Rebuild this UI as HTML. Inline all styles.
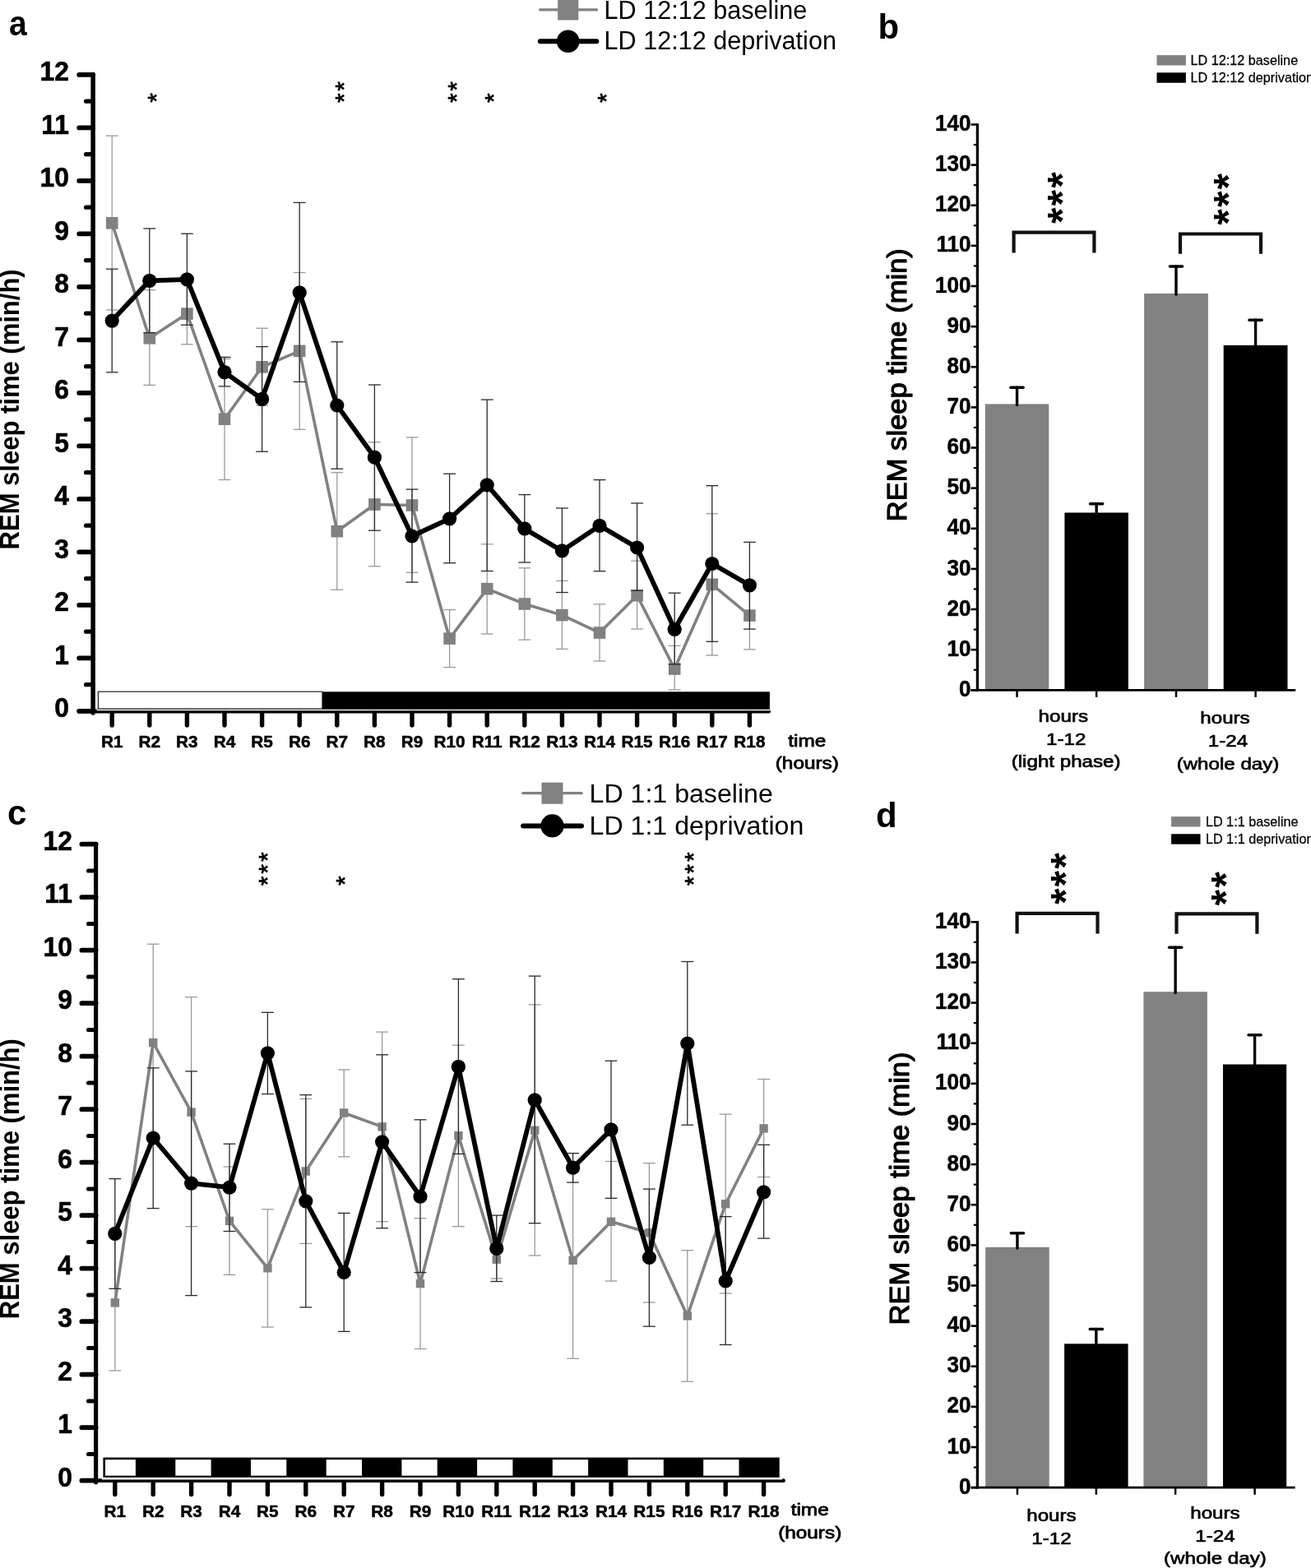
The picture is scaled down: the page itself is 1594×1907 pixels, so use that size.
<!DOCTYPE html>
<html lang="en"><head><meta charset="utf-8"><title>REM sleep time: LD 12:12 and LD 1:1, baseline vs deprivation</title>
<style>html,body{margin:0;padding:0;background:#fff}body{width:1594px;height:1907px;overflow:hidden}svg{display:block}text{font-family:'Liberation Sans', sans-serif;fill:#000}</style>
</head><body>
<svg width="1594" height="1907" viewBox="0 0 1594 1907" role="img" aria-label="REM sleep time per hour and totals for LD 12:12 and LD 1:1 schedules, baseline versus deprivation">
<rect x="0" y="0" width="1594" height="1907" fill="#fff"/>
<g id="panel-a">
<line x1="136.2" y1="165.1" x2="136.2" y2="377" stroke="#9a9a9a" stroke-width="1.3" stroke-linecap="butt"/>
<line x1="128.8" y1="165.1" x2="143.6" y2="165.1" stroke="#9a9a9a" stroke-width="1.3" stroke-linecap="butt"/>
<line x1="128.8" y1="377" x2="143.6" y2="377" stroke="#9a9a9a" stroke-width="1.3" stroke-linecap="butt"/>
<line x1="181.8" y1="352.6" x2="181.8" y2="468.4" stroke="#9a9a9a" stroke-width="1.3" stroke-linecap="butt"/>
<line x1="174.4" y1="352.6" x2="189.2" y2="352.6" stroke="#9a9a9a" stroke-width="1.3" stroke-linecap="butt"/>
<line x1="174.4" y1="468.4" x2="189.2" y2="468.4" stroke="#9a9a9a" stroke-width="1.3" stroke-linecap="butt"/>
<line x1="227.4" y1="344.4" x2="227.4" y2="418.8" stroke="#9a9a9a" stroke-width="1.3" stroke-linecap="butt"/>
<line x1="220" y1="344.4" x2="234.8" y2="344.4" stroke="#9a9a9a" stroke-width="1.3" stroke-linecap="butt"/>
<line x1="220" y1="418.8" x2="234.8" y2="418.8" stroke="#9a9a9a" stroke-width="1.3" stroke-linecap="butt"/>
<line x1="273" y1="436.4" x2="273" y2="583.5" stroke="#9a9a9a" stroke-width="1.3" stroke-linecap="butt"/>
<line x1="265.6" y1="436.4" x2="280.4" y2="436.4" stroke="#9a9a9a" stroke-width="1.3" stroke-linecap="butt"/>
<line x1="265.6" y1="583.5" x2="280.4" y2="583.5" stroke="#9a9a9a" stroke-width="1.3" stroke-linecap="butt"/>
<line x1="318.6" y1="399.2" x2="318.6" y2="493.3" stroke="#9a9a9a" stroke-width="1.3" stroke-linecap="butt"/>
<line x1="311.2" y1="399.2" x2="326" y2="399.2" stroke="#9a9a9a" stroke-width="1.3" stroke-linecap="butt"/>
<line x1="311.2" y1="493.3" x2="326" y2="493.3" stroke="#9a9a9a" stroke-width="1.3" stroke-linecap="butt"/>
<line x1="364.2" y1="331.5" x2="364.2" y2="522.3" stroke="#9a9a9a" stroke-width="1.3" stroke-linecap="butt"/>
<line x1="356.8" y1="331.5" x2="371.6" y2="331.5" stroke="#9a9a9a" stroke-width="1.3" stroke-linecap="butt"/>
<line x1="356.8" y1="522.3" x2="371.6" y2="522.3" stroke="#9a9a9a" stroke-width="1.3" stroke-linecap="butt"/>
<line x1="409.8" y1="574.7" x2="409.8" y2="717.2" stroke="#9a9a9a" stroke-width="1.3" stroke-linecap="butt"/>
<line x1="402.4" y1="574.7" x2="417.2" y2="574.7" stroke="#9a9a9a" stroke-width="1.3" stroke-linecap="butt"/>
<line x1="402.4" y1="717.2" x2="417.2" y2="717.2" stroke="#9a9a9a" stroke-width="1.3" stroke-linecap="butt"/>
<line x1="455.4" y1="537.7" x2="455.4" y2="688.7" stroke="#9a9a9a" stroke-width="1.3" stroke-linecap="butt"/>
<line x1="448" y1="537.7" x2="462.8" y2="537.7" stroke="#9a9a9a" stroke-width="1.3" stroke-linecap="butt"/>
<line x1="448" y1="688.7" x2="462.8" y2="688.7" stroke="#9a9a9a" stroke-width="1.3" stroke-linecap="butt"/>
<line x1="501" y1="531.9" x2="501" y2="696.3" stroke="#9a9a9a" stroke-width="1.3" stroke-linecap="butt"/>
<line x1="493.6" y1="531.9" x2="508.4" y2="531.9" stroke="#9a9a9a" stroke-width="1.3" stroke-linecap="butt"/>
<line x1="493.6" y1="696.3" x2="508.4" y2="696.3" stroke="#9a9a9a" stroke-width="1.3" stroke-linecap="butt"/>
<line x1="546.6" y1="741.6" x2="546.6" y2="811.6" stroke="#9a9a9a" stroke-width="1.3" stroke-linecap="butt"/>
<line x1="539.2" y1="741.6" x2="554" y2="741.6" stroke="#9a9a9a" stroke-width="1.3" stroke-linecap="butt"/>
<line x1="539.2" y1="811.6" x2="554" y2="811.6" stroke="#9a9a9a" stroke-width="1.3" stroke-linecap="butt"/>
<line x1="592.2" y1="661.8" x2="592.2" y2="771" stroke="#9a9a9a" stroke-width="1.3" stroke-linecap="butt"/>
<line x1="584.8" y1="661.8" x2="599.6" y2="661.8" stroke="#9a9a9a" stroke-width="1.3" stroke-linecap="butt"/>
<line x1="584.8" y1="771" x2="599.6" y2="771" stroke="#9a9a9a" stroke-width="1.3" stroke-linecap="butt"/>
<line x1="637.8" y1="690.8" x2="637.8" y2="778.1" stroke="#9a9a9a" stroke-width="1.3" stroke-linecap="butt"/>
<line x1="630.4" y1="690.8" x2="645.2" y2="690.8" stroke="#9a9a9a" stroke-width="1.3" stroke-linecap="butt"/>
<line x1="630.4" y1="778.1" x2="645.2" y2="778.1" stroke="#9a9a9a" stroke-width="1.3" stroke-linecap="butt"/>
<line x1="683.4" y1="706.4" x2="683.4" y2="789.4" stroke="#9a9a9a" stroke-width="1.3" stroke-linecap="butt"/>
<line x1="676" y1="706.4" x2="690.8" y2="706.4" stroke="#9a9a9a" stroke-width="1.3" stroke-linecap="butt"/>
<line x1="676" y1="789.4" x2="690.8" y2="789.4" stroke="#9a9a9a" stroke-width="1.3" stroke-linecap="butt"/>
<line x1="729" y1="734.8" x2="729" y2="804" stroke="#9a9a9a" stroke-width="1.3" stroke-linecap="butt"/>
<line x1="721.6" y1="734.8" x2="736.4" y2="734.8" stroke="#9a9a9a" stroke-width="1.3" stroke-linecap="butt"/>
<line x1="721.6" y1="804" x2="736.4" y2="804" stroke="#9a9a9a" stroke-width="1.3" stroke-linecap="butt"/>
<line x1="774.6" y1="682.2" x2="774.6" y2="765" stroke="#9a9a9a" stroke-width="1.3" stroke-linecap="butt"/>
<line x1="767.2" y1="682.2" x2="782" y2="682.2" stroke="#9a9a9a" stroke-width="1.3" stroke-linecap="butt"/>
<line x1="767.2" y1="765" x2="782" y2="765" stroke="#9a9a9a" stroke-width="1.3" stroke-linecap="butt"/>
<line x1="820.2" y1="785.4" x2="820.2" y2="838.9" stroke="#9a9a9a" stroke-width="1.3" stroke-linecap="butt"/>
<line x1="812.8" y1="785.4" x2="827.6" y2="785.4" stroke="#9a9a9a" stroke-width="1.3" stroke-linecap="butt"/>
<line x1="812.8" y1="838.9" x2="827.6" y2="838.9" stroke="#9a9a9a" stroke-width="1.3" stroke-linecap="butt"/>
<line x1="865.8" y1="624.7" x2="865.8" y2="797" stroke="#9a9a9a" stroke-width="1.3" stroke-linecap="butt"/>
<line x1="858.4" y1="624.7" x2="873.2" y2="624.7" stroke="#9a9a9a" stroke-width="1.3" stroke-linecap="butt"/>
<line x1="858.4" y1="797" x2="873.2" y2="797" stroke="#9a9a9a" stroke-width="1.3" stroke-linecap="butt"/>
<line x1="911.4" y1="707.3" x2="911.4" y2="789.9" stroke="#9a9a9a" stroke-width="1.3" stroke-linecap="butt"/>
<line x1="904" y1="707.3" x2="918.8" y2="707.3" stroke="#9a9a9a" stroke-width="1.3" stroke-linecap="butt"/>
<line x1="904" y1="789.9" x2="918.8" y2="789.9" stroke="#9a9a9a" stroke-width="1.3" stroke-linecap="butt"/>
<polyline points="136.2,271.3 181.8,411.3 227.4,381.6 273,509.7 318.6,446.3 364.2,426.9 409.8,646.2 455.4,613.5 501,614.5 546.6,776.6 592.2,716.2 637.8,734.5 683.4,748.1 729,769.5 774.6,724.2 820.2,813.5 865.8,710.8 911.4,748.6" fill="none" stroke="#818181" stroke-width="3.6" stroke-linejoin="round" stroke-linecap="round"/>
<rect x="128.9" y="264" width="14.6" height="14.6" fill="#818181"/>
<rect x="174.5" y="404" width="14.6" height="14.6" fill="#818181"/>
<rect x="220.1" y="374.3" width="14.6" height="14.6" fill="#818181"/>
<rect x="265.7" y="502.4" width="14.6" height="14.6" fill="#818181"/>
<rect x="311.3" y="439" width="14.6" height="14.6" fill="#818181"/>
<rect x="356.9" y="419.6" width="14.6" height="14.6" fill="#818181"/>
<rect x="402.5" y="638.9" width="14.6" height="14.6" fill="#818181"/>
<rect x="448.1" y="606.2" width="14.6" height="14.6" fill="#818181"/>
<rect x="493.7" y="607.2" width="14.6" height="14.6" fill="#818181"/>
<rect x="539.3" y="769.3" width="14.6" height="14.6" fill="#818181"/>
<rect x="584.9" y="708.9" width="14.6" height="14.6" fill="#818181"/>
<rect x="630.5" y="727.2" width="14.6" height="14.6" fill="#818181"/>
<rect x="676.1" y="740.8" width="14.6" height="14.6" fill="#818181"/>
<rect x="721.7" y="762.2" width="14.6" height="14.6" fill="#818181"/>
<rect x="767.3" y="716.9" width="14.6" height="14.6" fill="#818181"/>
<rect x="812.9" y="806.2" width="14.6" height="14.6" fill="#818181"/>
<rect x="858.5" y="703.5" width="14.6" height="14.6" fill="#818181"/>
<rect x="904.1" y="741.3" width="14.6" height="14.6" fill="#818181"/>
<line x1="136.2" y1="327.2" x2="136.2" y2="452.8" stroke="#2a2a2a" stroke-width="1.3" stroke-linecap="butt"/>
<line x1="128.8" y1="327.2" x2="143.6" y2="327.2" stroke="#2a2a2a" stroke-width="1.3" stroke-linecap="butt"/>
<line x1="128.8" y1="452.8" x2="143.6" y2="452.8" stroke="#2a2a2a" stroke-width="1.3" stroke-linecap="butt"/>
<line x1="181.8" y1="277.9" x2="181.8" y2="404.7" stroke="#2a2a2a" stroke-width="1.3" stroke-linecap="butt"/>
<line x1="174.4" y1="277.9" x2="189.2" y2="277.9" stroke="#2a2a2a" stroke-width="1.3" stroke-linecap="butt"/>
<line x1="174.4" y1="404.7" x2="189.2" y2="404.7" stroke="#2a2a2a" stroke-width="1.3" stroke-linecap="butt"/>
<line x1="227.4" y1="284.2" x2="227.4" y2="395.2" stroke="#2a2a2a" stroke-width="1.3" stroke-linecap="butt"/>
<line x1="220" y1="284.2" x2="234.8" y2="284.2" stroke="#2a2a2a" stroke-width="1.3" stroke-linecap="butt"/>
<line x1="220" y1="395.2" x2="234.8" y2="395.2" stroke="#2a2a2a" stroke-width="1.3" stroke-linecap="butt"/>
<line x1="273" y1="434.4" x2="273" y2="469.9" stroke="#2a2a2a" stroke-width="1.3" stroke-linecap="butt"/>
<line x1="265.6" y1="434.4" x2="280.4" y2="434.4" stroke="#2a2a2a" stroke-width="1.3" stroke-linecap="butt"/>
<line x1="265.6" y1="469.9" x2="280.4" y2="469.9" stroke="#2a2a2a" stroke-width="1.3" stroke-linecap="butt"/>
<line x1="318.6" y1="421.6" x2="318.6" y2="549.2" stroke="#2a2a2a" stroke-width="1.3" stroke-linecap="butt"/>
<line x1="311.2" y1="421.6" x2="326" y2="421.6" stroke="#2a2a2a" stroke-width="1.3" stroke-linecap="butt"/>
<line x1="311.2" y1="549.2" x2="326" y2="549.2" stroke="#2a2a2a" stroke-width="1.3" stroke-linecap="butt"/>
<line x1="364.2" y1="246.4" x2="364.2" y2="464.4" stroke="#2a2a2a" stroke-width="1.3" stroke-linecap="butt"/>
<line x1="356.8" y1="246.4" x2="371.6" y2="246.4" stroke="#2a2a2a" stroke-width="1.3" stroke-linecap="butt"/>
<line x1="356.8" y1="464.4" x2="371.6" y2="464.4" stroke="#2a2a2a" stroke-width="1.3" stroke-linecap="butt"/>
<line x1="409.8" y1="415.8" x2="409.8" y2="570.2" stroke="#2a2a2a" stroke-width="1.3" stroke-linecap="butt"/>
<line x1="402.4" y1="415.8" x2="417.2" y2="415.8" stroke="#2a2a2a" stroke-width="1.3" stroke-linecap="butt"/>
<line x1="402.4" y1="570.2" x2="417.2" y2="570.2" stroke="#2a2a2a" stroke-width="1.3" stroke-linecap="butt"/>
<line x1="455.4" y1="468" x2="455.4" y2="645.2" stroke="#2a2a2a" stroke-width="1.3" stroke-linecap="butt"/>
<line x1="448" y1="468" x2="462.8" y2="468" stroke="#2a2a2a" stroke-width="1.3" stroke-linecap="butt"/>
<line x1="448" y1="645.2" x2="462.8" y2="645.2" stroke="#2a2a2a" stroke-width="1.3" stroke-linecap="butt"/>
<line x1="501" y1="595.1" x2="501" y2="708.1" stroke="#2a2a2a" stroke-width="1.3" stroke-linecap="butt"/>
<line x1="493.6" y1="595.1" x2="508.4" y2="595.1" stroke="#2a2a2a" stroke-width="1.3" stroke-linecap="butt"/>
<line x1="493.6" y1="708.1" x2="508.4" y2="708.1" stroke="#2a2a2a" stroke-width="1.3" stroke-linecap="butt"/>
<line x1="546.6" y1="576.2" x2="546.6" y2="684.7" stroke="#2a2a2a" stroke-width="1.3" stroke-linecap="butt"/>
<line x1="539.2" y1="576.2" x2="554" y2="576.2" stroke="#2a2a2a" stroke-width="1.3" stroke-linecap="butt"/>
<line x1="539.2" y1="684.7" x2="554" y2="684.7" stroke="#2a2a2a" stroke-width="1.3" stroke-linecap="butt"/>
<line x1="592.2" y1="486.1" x2="592.2" y2="694.5" stroke="#2a2a2a" stroke-width="1.3" stroke-linecap="butt"/>
<line x1="584.8" y1="486.1" x2="599.6" y2="486.1" stroke="#2a2a2a" stroke-width="1.3" stroke-linecap="butt"/>
<line x1="584.8" y1="694.5" x2="599.6" y2="694.5" stroke="#2a2a2a" stroke-width="1.3" stroke-linecap="butt"/>
<line x1="637.8" y1="601.6" x2="637.8" y2="684" stroke="#2a2a2a" stroke-width="1.3" stroke-linecap="butt"/>
<line x1="630.4" y1="601.6" x2="645.2" y2="601.6" stroke="#2a2a2a" stroke-width="1.3" stroke-linecap="butt"/>
<line x1="630.4" y1="684" x2="645.2" y2="684" stroke="#2a2a2a" stroke-width="1.3" stroke-linecap="butt"/>
<line x1="683.4" y1="618" x2="683.4" y2="720.5" stroke="#2a2a2a" stroke-width="1.3" stroke-linecap="butt"/>
<line x1="676" y1="618" x2="690.8" y2="618" stroke="#2a2a2a" stroke-width="1.3" stroke-linecap="butt"/>
<line x1="676" y1="720.5" x2="690.8" y2="720.5" stroke="#2a2a2a" stroke-width="1.3" stroke-linecap="butt"/>
<line x1="729" y1="583.6" x2="729" y2="694.7" stroke="#2a2a2a" stroke-width="1.3" stroke-linecap="butt"/>
<line x1="721.6" y1="583.6" x2="736.4" y2="583.6" stroke="#2a2a2a" stroke-width="1.3" stroke-linecap="butt"/>
<line x1="721.6" y1="694.7" x2="736.4" y2="694.7" stroke="#2a2a2a" stroke-width="1.3" stroke-linecap="butt"/>
<line x1="774.6" y1="612" x2="774.6" y2="718.3" stroke="#2a2a2a" stroke-width="1.3" stroke-linecap="butt"/>
<line x1="767.2" y1="612" x2="782" y2="612" stroke="#2a2a2a" stroke-width="1.3" stroke-linecap="butt"/>
<line x1="767.2" y1="718.3" x2="782" y2="718.3" stroke="#2a2a2a" stroke-width="1.3" stroke-linecap="butt"/>
<line x1="820.2" y1="721.2" x2="820.2" y2="808" stroke="#2a2a2a" stroke-width="1.3" stroke-linecap="butt"/>
<line x1="812.8" y1="721.2" x2="827.6" y2="721.2" stroke="#2a2a2a" stroke-width="1.3" stroke-linecap="butt"/>
<line x1="812.8" y1="808" x2="827.6" y2="808" stroke="#2a2a2a" stroke-width="1.3" stroke-linecap="butt"/>
<line x1="865.8" y1="590.7" x2="865.8" y2="780.3" stroke="#2a2a2a" stroke-width="1.3" stroke-linecap="butt"/>
<line x1="858.4" y1="590.7" x2="873.2" y2="590.7" stroke="#2a2a2a" stroke-width="1.3" stroke-linecap="butt"/>
<line x1="858.4" y1="780.3" x2="873.2" y2="780.3" stroke="#2a2a2a" stroke-width="1.3" stroke-linecap="butt"/>
<line x1="911.4" y1="659.4" x2="911.4" y2="765.1" stroke="#2a2a2a" stroke-width="1.3" stroke-linecap="butt"/>
<line x1="904" y1="659.4" x2="918.8" y2="659.4" stroke="#2a2a2a" stroke-width="1.3" stroke-linecap="butt"/>
<line x1="904" y1="765.1" x2="918.8" y2="765.1" stroke="#2a2a2a" stroke-width="1.3" stroke-linecap="butt"/>
<polyline points="136.2,390.1 181.8,341.3 227.4,339.8 273,452.6 318.6,485.3 364.2,355.9 409.8,493 455.4,556.2 501,652 546.6,630.8 592.2,589.8 637.8,642.9 683.4,669.9 729,639.3 774.6,666 820.2,765.3 865.8,685.5 911.4,711.8" fill="none" stroke="#000" stroke-width="5.8" stroke-linejoin="round" stroke-linecap="round"/>
<circle cx="136.2" cy="390.1" r="8.6" fill="#000"/>
<circle cx="181.8" cy="341.3" r="8.6" fill="#000"/>
<circle cx="227.4" cy="339.8" r="8.6" fill="#000"/>
<circle cx="273" cy="452.6" r="8.6" fill="#000"/>
<circle cx="318.6" cy="485.3" r="8.6" fill="#000"/>
<circle cx="364.2" cy="355.9" r="8.6" fill="#000"/>
<circle cx="409.8" cy="493" r="8.6" fill="#000"/>
<circle cx="455.4" cy="556.2" r="8.6" fill="#000"/>
<circle cx="501" cy="652" r="8.6" fill="#000"/>
<circle cx="546.6" cy="630.8" r="8.6" fill="#000"/>
<circle cx="592.2" cy="589.8" r="8.6" fill="#000"/>
<circle cx="637.8" cy="642.9" r="8.6" fill="#000"/>
<circle cx="683.4" cy="669.9" r="8.6" fill="#000"/>
<circle cx="729" cy="639.3" r="8.6" fill="#000"/>
<circle cx="774.6" cy="666" r="8.6" fill="#000"/>
<circle cx="820.2" cy="765.3" r="8.6" fill="#000"/>
<circle cx="865.8" cy="685.5" r="8.6" fill="#000"/>
<circle cx="911.4" cy="711.8" r="8.6" fill="#000"/>
<line x1="113.1" y1="90.5" x2="113.1" y2="866.9" stroke="#000" stroke-width="5.5" stroke-linecap="round"/>
<line x1="96.2" y1="864.9" x2="113.1" y2="864.9" stroke="#000" stroke-width="5.7" stroke-linecap="round"/>
<line x1="104.5" y1="832.65" x2="113.1" y2="832.65" stroke="#000" stroke-width="5.1" stroke-linecap="round"/>
<line x1="96.2" y1="800.4" x2="113.1" y2="800.4" stroke="#000" stroke-width="5.7" stroke-linecap="round"/>
<line x1="104.5" y1="768.15" x2="113.1" y2="768.15" stroke="#000" stroke-width="5.1" stroke-linecap="round"/>
<line x1="96.2" y1="735.9" x2="113.1" y2="735.9" stroke="#000" stroke-width="5.7" stroke-linecap="round"/>
<line x1="104.5" y1="703.65" x2="113.1" y2="703.65" stroke="#000" stroke-width="5.1" stroke-linecap="round"/>
<line x1="96.2" y1="671.4" x2="113.1" y2="671.4" stroke="#000" stroke-width="5.7" stroke-linecap="round"/>
<line x1="104.5" y1="639.15" x2="113.1" y2="639.15" stroke="#000" stroke-width="5.1" stroke-linecap="round"/>
<line x1="96.2" y1="606.9" x2="113.1" y2="606.9" stroke="#000" stroke-width="5.7" stroke-linecap="round"/>
<line x1="104.5" y1="574.65" x2="113.1" y2="574.65" stroke="#000" stroke-width="5.1" stroke-linecap="round"/>
<line x1="96.2" y1="542.4" x2="113.1" y2="542.4" stroke="#000" stroke-width="5.7" stroke-linecap="round"/>
<line x1="104.5" y1="510.15" x2="113.1" y2="510.15" stroke="#000" stroke-width="5.1" stroke-linecap="round"/>
<line x1="96.2" y1="477.9" x2="113.1" y2="477.9" stroke="#000" stroke-width="5.7" stroke-linecap="round"/>
<line x1="104.5" y1="445.65" x2="113.1" y2="445.65" stroke="#000" stroke-width="5.1" stroke-linecap="round"/>
<line x1="96.2" y1="413.4" x2="113.1" y2="413.4" stroke="#000" stroke-width="5.7" stroke-linecap="round"/>
<line x1="104.5" y1="381.15" x2="113.1" y2="381.15" stroke="#000" stroke-width="5.1" stroke-linecap="round"/>
<line x1="96.2" y1="348.9" x2="113.1" y2="348.9" stroke="#000" stroke-width="5.7" stroke-linecap="round"/>
<line x1="104.5" y1="316.65" x2="113.1" y2="316.65" stroke="#000" stroke-width="5.1" stroke-linecap="round"/>
<line x1="96.2" y1="284.4" x2="113.1" y2="284.4" stroke="#000" stroke-width="5.7" stroke-linecap="round"/>
<line x1="104.5" y1="252.15" x2="113.1" y2="252.15" stroke="#000" stroke-width="5.1" stroke-linecap="round"/>
<line x1="96.2" y1="219.9" x2="113.1" y2="219.9" stroke="#000" stroke-width="5.7" stroke-linecap="round"/>
<line x1="104.5" y1="187.65" x2="113.1" y2="187.65" stroke="#000" stroke-width="5.1" stroke-linecap="round"/>
<line x1="96.2" y1="155.4" x2="113.1" y2="155.4" stroke="#000" stroke-width="5.7" stroke-linecap="round"/>
<line x1="104.5" y1="123.15" x2="113.1" y2="123.15" stroke="#000" stroke-width="5.1" stroke-linecap="round"/>
<line x1="96.2" y1="90.9" x2="113.1" y2="90.9" stroke="#000" stroke-width="5.7" stroke-linecap="round"/>
<line x1="96.2" y1="864.9" x2="934.5" y2="864.9" stroke="#000" stroke-width="5" stroke-linecap="round"/>
<line x1="136.2" y1="864.9" x2="136.2" y2="882" stroke="#000" stroke-width="5.4" stroke-linecap="round"/>
<line x1="181.8" y1="864.9" x2="181.8" y2="882" stroke="#000" stroke-width="5.4" stroke-linecap="round"/>
<line x1="227.4" y1="864.9" x2="227.4" y2="882" stroke="#000" stroke-width="5.4" stroke-linecap="round"/>
<line x1="273" y1="864.9" x2="273" y2="882" stroke="#000" stroke-width="5.4" stroke-linecap="round"/>
<line x1="318.6" y1="864.9" x2="318.6" y2="882" stroke="#000" stroke-width="5.4" stroke-linecap="round"/>
<line x1="364.2" y1="864.9" x2="364.2" y2="882" stroke="#000" stroke-width="5.4" stroke-linecap="round"/>
<line x1="409.8" y1="864.9" x2="409.8" y2="882" stroke="#000" stroke-width="5.4" stroke-linecap="round"/>
<line x1="455.4" y1="864.9" x2="455.4" y2="882" stroke="#000" stroke-width="5.4" stroke-linecap="round"/>
<line x1="501" y1="864.9" x2="501" y2="882" stroke="#000" stroke-width="5.4" stroke-linecap="round"/>
<line x1="546.6" y1="864.9" x2="546.6" y2="882" stroke="#000" stroke-width="5.4" stroke-linecap="round"/>
<line x1="592.2" y1="864.9" x2="592.2" y2="882" stroke="#000" stroke-width="5.4" stroke-linecap="round"/>
<line x1="637.8" y1="864.9" x2="637.8" y2="882" stroke="#000" stroke-width="5.4" stroke-linecap="round"/>
<line x1="683.4" y1="864.9" x2="683.4" y2="882" stroke="#000" stroke-width="5.4" stroke-linecap="round"/>
<line x1="729" y1="864.9" x2="729" y2="882" stroke="#000" stroke-width="5.4" stroke-linecap="round"/>
<line x1="774.6" y1="864.9" x2="774.6" y2="882" stroke="#000" stroke-width="5.4" stroke-linecap="round"/>
<line x1="820.2" y1="864.9" x2="820.2" y2="882" stroke="#000" stroke-width="5.4" stroke-linecap="round"/>
<line x1="865.8" y1="864.9" x2="865.8" y2="882" stroke="#000" stroke-width="5.4" stroke-linecap="round"/>
<line x1="911.4" y1="864.9" x2="911.4" y2="882" stroke="#000" stroke-width="5.4" stroke-linecap="round"/>
<rect x="117.6" y="862.6" width="819" height="1.6" fill="#fff"/>
<rect x="392" y="841.3" width="543.9" height="21.4" fill="#000"/>
<rect x="119.4" y="841.2" width="272.5" height="20.8" fill="#fff" stroke="#222" stroke-width="1.2"/>
<text transform="translate(84 872.2) scale(0.95 1)" font-size="33.5" font-weight="bold" text-anchor="end" stroke="#000" stroke-width="0.6" stroke-linejoin="round">0</text>
<text transform="translate(84 807.7) scale(0.95 1)" font-size="33.5" font-weight="bold" text-anchor="end" stroke="#000" stroke-width="0.6" stroke-linejoin="round">1</text>
<text transform="translate(84 743.2) scale(0.95 1)" font-size="33.5" font-weight="bold" text-anchor="end" stroke="#000" stroke-width="0.6" stroke-linejoin="round">2</text>
<text transform="translate(84 678.7) scale(0.95 1)" font-size="33.5" font-weight="bold" text-anchor="end" stroke="#000" stroke-width="0.6" stroke-linejoin="round">3</text>
<text transform="translate(84 614.2) scale(0.95 1)" font-size="33.5" font-weight="bold" text-anchor="end" stroke="#000" stroke-width="0.6" stroke-linejoin="round">4</text>
<text transform="translate(84 549.7) scale(0.95 1)" font-size="33.5" font-weight="bold" text-anchor="end" stroke="#000" stroke-width="0.6" stroke-linejoin="round">5</text>
<text transform="translate(84 485.2) scale(0.95 1)" font-size="33.5" font-weight="bold" text-anchor="end" stroke="#000" stroke-width="0.6" stroke-linejoin="round">6</text>
<text transform="translate(84 420.7) scale(0.95 1)" font-size="33.5" font-weight="bold" text-anchor="end" stroke="#000" stroke-width="0.6" stroke-linejoin="round">7</text>
<text transform="translate(84 356.2) scale(0.95 1)" font-size="33.5" font-weight="bold" text-anchor="end" stroke="#000" stroke-width="0.6" stroke-linejoin="round">8</text>
<text transform="translate(84 291.7) scale(0.95 1)" font-size="33.5" font-weight="bold" text-anchor="end" stroke="#000" stroke-width="0.6" stroke-linejoin="round">9</text>
<text transform="translate(84 227.2) scale(0.95 1)" font-size="33.5" font-weight="bold" text-anchor="end" stroke="#000" stroke-width="0.6" stroke-linejoin="round">10</text>
<text transform="translate(84 162.7) scale(0.95 1)" font-size="33.5" font-weight="bold" text-anchor="end" stroke="#000" stroke-width="0.6" stroke-linejoin="round">11</text>
<text transform="translate(84 98.2) scale(0.95 1)" font-size="33.5" font-weight="bold" text-anchor="end" stroke="#000" stroke-width="0.6" stroke-linejoin="round">12</text>
<text x="136.2" y="909.4" font-size="20.8" font-weight="bold" text-anchor="middle" stroke="#000" stroke-width="0.5" stroke-linejoin="round">R1</text>
<text x="181.8" y="909.4" font-size="20.8" font-weight="bold" text-anchor="middle" stroke="#000" stroke-width="0.5" stroke-linejoin="round">R2</text>
<text x="227.4" y="909.4" font-size="20.8" font-weight="bold" text-anchor="middle" stroke="#000" stroke-width="0.5" stroke-linejoin="round">R3</text>
<text x="273" y="909.4" font-size="20.8" font-weight="bold" text-anchor="middle" stroke="#000" stroke-width="0.5" stroke-linejoin="round">R4</text>
<text x="318.6" y="909.4" font-size="20.8" font-weight="bold" text-anchor="middle" stroke="#000" stroke-width="0.5" stroke-linejoin="round">R5</text>
<text x="364.2" y="909.4" font-size="20.8" font-weight="bold" text-anchor="middle" stroke="#000" stroke-width="0.5" stroke-linejoin="round">R6</text>
<text x="409.8" y="909.4" font-size="20.8" font-weight="bold" text-anchor="middle" stroke="#000" stroke-width="0.5" stroke-linejoin="round">R7</text>
<text x="455.4" y="909.4" font-size="20.8" font-weight="bold" text-anchor="middle" stroke="#000" stroke-width="0.5" stroke-linejoin="round">R8</text>
<text x="501" y="909.4" font-size="20.8" font-weight="bold" text-anchor="middle" stroke="#000" stroke-width="0.5" stroke-linejoin="round">R9</text>
<text x="546.6" y="909.4" font-size="20.8" font-weight="bold" text-anchor="middle" stroke="#000" stroke-width="0.5" stroke-linejoin="round">R10</text>
<text x="592.2" y="909.4" font-size="20.8" font-weight="bold" text-anchor="middle" stroke="#000" stroke-width="0.5" stroke-linejoin="round">R11</text>
<text x="637.8" y="909.4" font-size="20.8" font-weight="bold" text-anchor="middle" stroke="#000" stroke-width="0.5" stroke-linejoin="round">R12</text>
<text x="683.4" y="909.4" font-size="20.8" font-weight="bold" text-anchor="middle" stroke="#000" stroke-width="0.5" stroke-linejoin="round">R13</text>
<text x="729" y="909.4" font-size="20.8" font-weight="bold" text-anchor="middle" stroke="#000" stroke-width="0.5" stroke-linejoin="round">R14</text>
<text x="774.6" y="909.4" font-size="20.8" font-weight="bold" text-anchor="middle" stroke="#000" stroke-width="0.5" stroke-linejoin="round">R15</text>
<text x="820.2" y="909.4" font-size="20.8" font-weight="bold" text-anchor="middle" stroke="#000" stroke-width="0.5" stroke-linejoin="round">R16</text>
<text x="865.8" y="909.4" font-size="20.8" font-weight="bold" text-anchor="middle" stroke="#000" stroke-width="0.5" stroke-linejoin="round">R17</text>
<text x="911.4" y="909.4" font-size="20.8" font-weight="bold" text-anchor="middle" stroke="#000" stroke-width="0.5" stroke-linejoin="round">R18</text>
<text transform="translate(23 497.9) rotate(-90) scale(0.96 1)" font-size="32.3" font-weight="bold" text-anchor="middle">REM sleep time (min/h)</text>
<text transform="translate(981.3 908.1) scale(1.2 1)" font-size="20.3" font-weight="normal" text-anchor="middle" stroke="#000" stroke-width="0.8" stroke-linejoin="round">time</text>
<text transform="translate(981.3 935.4) scale(1.2 1)" font-size="20.3" font-weight="normal" text-anchor="middle" stroke="#000" stroke-width="0.8" stroke-linejoin="round">(hours)</text>
<text transform="translate(11 42.7) scale(0.93 1)" font-size="42" font-weight="bold" text-anchor="start">a</text>
<line x1="656.6" y1="11.9" x2="725.6" y2="11.9" stroke="#818181" stroke-width="3.2" stroke-linecap="round"/>
<rect x="678.15" y="-0.65" width="25.1" height="25.1" fill="#818181"/>
<line x1="656.9" y1="50.2" x2="725.3" y2="50.2" stroke="#000" stroke-width="6" stroke-linecap="round"/>
<circle cx="690.7" cy="50.2" r="13.8" fill="#000"/>
<text transform="translate(734.6 22.6) scale(1 1)" font-size="30.6" font-weight="normal" text-anchor="start">LD 12:12 baseline</text>
<text transform="translate(734.6 60.3) scale(1 1)" font-size="30.6" font-weight="normal" text-anchor="start">LD 12:12 deprivation</text>
<text transform="translate(199.9 124.8) rotate(-90)" font-size="30" font-weight="normal" text-anchor="start" stroke="#000" stroke-width="0.7" stroke-linejoin="round" letter-spacing="2.6">*</text>
<text transform="translate(427.9 125) rotate(-90)" font-size="30" font-weight="normal" text-anchor="start" stroke="#000" stroke-width="0.7" stroke-linejoin="round" letter-spacing="2.6">**</text>
<text transform="translate(564.9 125) rotate(-90)" font-size="30" font-weight="normal" text-anchor="start" stroke="#000" stroke-width="0.7" stroke-linejoin="round" letter-spacing="2.6">**</text>
<text transform="translate(609.9 125) rotate(-90)" font-size="30" font-weight="normal" text-anchor="start" stroke="#000" stroke-width="0.7" stroke-linejoin="round" letter-spacing="2.6">*</text>
<text transform="translate(746.9 125) rotate(-90)" font-size="30" font-weight="normal" text-anchor="start" stroke="#000" stroke-width="0.7" stroke-linejoin="round" letter-spacing="2.6">*</text>
</g>
<g id="panel-b">
<rect x="1197.8" y="491.4" width="77.5" height="347.9" fill="#818181"/>
<line x1="1236.55" y1="471.3" x2="1236.55" y2="492.6" stroke="#000" stroke-width="3.4" stroke-linecap="round"/>
<line x1="1228.95" y1="471.3" x2="1244.15" y2="471.3" stroke="#000" stroke-width="3.4" stroke-linecap="round"/>
<rect x="1294.4" y="623.5" width="77.5" height="215.8" fill="#000"/>
<line x1="1333.15" y1="612.7" x2="1333.15" y2="624.7" stroke="#000" stroke-width="3.4" stroke-linecap="round"/>
<line x1="1325.55" y1="612.7" x2="1340.75" y2="612.7" stroke="#000" stroke-width="3.4" stroke-linecap="round"/>
<rect x="1391.1" y="357" width="77.8" height="482.3" fill="#818181"/>
<line x1="1430" y1="324" x2="1430" y2="358.2" stroke="#000" stroke-width="3.4" stroke-linecap="round"/>
<line x1="1422.4" y1="324" x2="1437.6" y2="324" stroke="#000" stroke-width="3.4" stroke-linecap="round"/>
<rect x="1487.7" y="419.9" width="77.8" height="419.4" fill="#000"/>
<line x1="1526.6" y1="389.3" x2="1526.6" y2="421.1" stroke="#000" stroke-width="3.4" stroke-linecap="round"/>
<line x1="1519" y1="389.3" x2="1534.2" y2="389.3" stroke="#000" stroke-width="3.4" stroke-linecap="round"/>
<line x1="1188.4" y1="150.18" x2="1188.4" y2="840.7" stroke="#000" stroke-width="3.3" stroke-linecap="butt"/>
<line x1="1180.6" y1="839.3" x2="1188.3" y2="839.3" stroke="#000" stroke-width="2.6" stroke-linecap="butt"/>
<line x1="1183.8" y1="814.73" x2="1188.3" y2="814.73" stroke="#000" stroke-width="2.2" stroke-linecap="butt"/>
<line x1="1180.6" y1="790.17" x2="1188.3" y2="790.17" stroke="#000" stroke-width="2.6" stroke-linecap="butt"/>
<line x1="1183.8" y1="765.6" x2="1188.3" y2="765.6" stroke="#000" stroke-width="2.2" stroke-linecap="butt"/>
<line x1="1180.6" y1="741.04" x2="1188.3" y2="741.04" stroke="#000" stroke-width="2.6" stroke-linecap="butt"/>
<line x1="1183.8" y1="716.47" x2="1188.3" y2="716.47" stroke="#000" stroke-width="2.2" stroke-linecap="butt"/>
<line x1="1180.6" y1="691.91" x2="1188.3" y2="691.91" stroke="#000" stroke-width="2.6" stroke-linecap="butt"/>
<line x1="1183.8" y1="667.34" x2="1188.3" y2="667.34" stroke="#000" stroke-width="2.2" stroke-linecap="butt"/>
<line x1="1180.6" y1="642.78" x2="1188.3" y2="642.78" stroke="#000" stroke-width="2.6" stroke-linecap="butt"/>
<line x1="1183.8" y1="618.21" x2="1188.3" y2="618.21" stroke="#000" stroke-width="2.2" stroke-linecap="butt"/>
<line x1="1180.6" y1="593.65" x2="1188.3" y2="593.65" stroke="#000" stroke-width="2.6" stroke-linecap="butt"/>
<line x1="1183.8" y1="569.08" x2="1188.3" y2="569.08" stroke="#000" stroke-width="2.2" stroke-linecap="butt"/>
<line x1="1180.6" y1="544.52" x2="1188.3" y2="544.52" stroke="#000" stroke-width="2.6" stroke-linecap="butt"/>
<line x1="1183.8" y1="519.95" x2="1188.3" y2="519.95" stroke="#000" stroke-width="2.2" stroke-linecap="butt"/>
<line x1="1180.6" y1="495.39" x2="1188.3" y2="495.39" stroke="#000" stroke-width="2.6" stroke-linecap="butt"/>
<line x1="1183.8" y1="470.82" x2="1188.3" y2="470.82" stroke="#000" stroke-width="2.2" stroke-linecap="butt"/>
<line x1="1180.6" y1="446.26" x2="1188.3" y2="446.26" stroke="#000" stroke-width="2.6" stroke-linecap="butt"/>
<line x1="1183.8" y1="421.69" x2="1188.3" y2="421.69" stroke="#000" stroke-width="2.2" stroke-linecap="butt"/>
<line x1="1180.6" y1="397.13" x2="1188.3" y2="397.13" stroke="#000" stroke-width="2.6" stroke-linecap="butt"/>
<line x1="1183.8" y1="372.56" x2="1188.3" y2="372.56" stroke="#000" stroke-width="2.2" stroke-linecap="butt"/>
<line x1="1180.6" y1="348" x2="1188.3" y2="348" stroke="#000" stroke-width="2.6" stroke-linecap="butt"/>
<line x1="1183.8" y1="323.43" x2="1188.3" y2="323.43" stroke="#000" stroke-width="2.2" stroke-linecap="butt"/>
<line x1="1180.6" y1="298.87" x2="1188.3" y2="298.87" stroke="#000" stroke-width="2.6" stroke-linecap="butt"/>
<line x1="1183.8" y1="274.3" x2="1188.3" y2="274.3" stroke="#000" stroke-width="2.2" stroke-linecap="butt"/>
<line x1="1180.6" y1="249.74" x2="1188.3" y2="249.74" stroke="#000" stroke-width="2.6" stroke-linecap="butt"/>
<line x1="1183.8" y1="225.17" x2="1188.3" y2="225.17" stroke="#000" stroke-width="2.2" stroke-linecap="butt"/>
<line x1="1180.6" y1="200.61" x2="1188.3" y2="200.61" stroke="#000" stroke-width="2.6" stroke-linecap="butt"/>
<line x1="1183.8" y1="176.04" x2="1188.3" y2="176.04" stroke="#000" stroke-width="2.2" stroke-linecap="butt"/>
<line x1="1180.6" y1="151.48" x2="1188.3" y2="151.48" stroke="#000" stroke-width="2.6" stroke-linecap="butt"/>
<line x1="1180.6" y1="839.3" x2="1575.3" y2="839.3" stroke="#000" stroke-width="2.8" stroke-linecap="butt"/>
<line x1="1236.55" y1="839.3" x2="1236.55" y2="847.9" stroke="#000" stroke-width="2.5" stroke-linecap="butt"/>
<line x1="1333.15" y1="839.3" x2="1333.15" y2="847.9" stroke="#000" stroke-width="2.5" stroke-linecap="butt"/>
<line x1="1430" y1="839.3" x2="1430" y2="847.9" stroke="#000" stroke-width="2.5" stroke-linecap="butt"/>
<line x1="1526.6" y1="839.3" x2="1526.6" y2="847.9" stroke="#000" stroke-width="2.5" stroke-linecap="butt"/>
<text transform="translate(1180.6 846.9) scale(0.96 1)" font-size="27.2" font-weight="bold" text-anchor="end" stroke="#000" stroke-width="0.5" stroke-linejoin="round">0</text>
<text transform="translate(1180.6 797.77) scale(0.96 1)" font-size="27.2" font-weight="bold" text-anchor="end" stroke="#000" stroke-width="0.5" stroke-linejoin="round">10</text>
<text transform="translate(1180.6 748.64) scale(0.96 1)" font-size="27.2" font-weight="bold" text-anchor="end" stroke="#000" stroke-width="0.5" stroke-linejoin="round">20</text>
<text transform="translate(1180.6 699.51) scale(0.96 1)" font-size="27.2" font-weight="bold" text-anchor="end" stroke="#000" stroke-width="0.5" stroke-linejoin="round">30</text>
<text transform="translate(1180.6 650.38) scale(0.96 1)" font-size="27.2" font-weight="bold" text-anchor="end" stroke="#000" stroke-width="0.5" stroke-linejoin="round">40</text>
<text transform="translate(1180.6 601.25) scale(0.96 1)" font-size="27.2" font-weight="bold" text-anchor="end" stroke="#000" stroke-width="0.5" stroke-linejoin="round">50</text>
<text transform="translate(1180.6 552.12) scale(0.96 1)" font-size="27.2" font-weight="bold" text-anchor="end" stroke="#000" stroke-width="0.5" stroke-linejoin="round">60</text>
<text transform="translate(1180.6 502.99) scale(0.96 1)" font-size="27.2" font-weight="bold" text-anchor="end" stroke="#000" stroke-width="0.5" stroke-linejoin="round">70</text>
<text transform="translate(1180.6 453.86) scale(0.96 1)" font-size="27.2" font-weight="bold" text-anchor="end" stroke="#000" stroke-width="0.5" stroke-linejoin="round">80</text>
<text transform="translate(1180.6 404.73) scale(0.96 1)" font-size="27.2" font-weight="bold" text-anchor="end" stroke="#000" stroke-width="0.5" stroke-linejoin="round">90</text>
<text transform="translate(1180.6 355.6) scale(0.96 1)" font-size="27.2" font-weight="bold" text-anchor="end" stroke="#000" stroke-width="0.5" stroke-linejoin="round">100</text>
<text transform="translate(1180.6 306.47) scale(0.96 1)" font-size="27.2" font-weight="bold" text-anchor="end" stroke="#000" stroke-width="0.5" stroke-linejoin="round">110</text>
<text transform="translate(1180.6 257.34) scale(0.96 1)" font-size="27.2" font-weight="bold" text-anchor="end" stroke="#000" stroke-width="0.5" stroke-linejoin="round">120</text>
<text transform="translate(1180.6 208.21) scale(0.96 1)" font-size="27.2" font-weight="bold" text-anchor="end" stroke="#000" stroke-width="0.5" stroke-linejoin="round">130</text>
<text transform="translate(1180.6 159.08) scale(0.96 1)" font-size="27.2" font-weight="bold" text-anchor="end" stroke="#000" stroke-width="0.5" stroke-linejoin="round">140</text>
<text transform="translate(1101.5 468.2) rotate(-90) scale(1.07 1)" font-size="32.3" font-weight="normal" text-anchor="middle" stroke="#000" stroke-width="1.2" stroke-linejoin="round">REM sleep time (min)</text>
<text x="1067.5" y="46.5" font-size="42" font-weight="bold" text-anchor="start">b</text>
<rect x="1406.5" y="67.1" width="35.4" height="12.4" fill="#818181"/>
<rect x="1406.5" y="88.3" width="35.4" height="12.4" fill="#000"/>
<text transform="translate(1447.5 78.8) scale(0.96 1)" font-size="16.9" font-weight="normal" text-anchor="start" stroke="#000" stroke-width="0.25" stroke-linejoin="round">LD 12:12 baseline</text>
<text transform="translate(1447.5 100.1) scale(0.96 1)" font-size="16.9" font-weight="normal" text-anchor="start" stroke="#000" stroke-width="0.25" stroke-linejoin="round">LD 12:12 deprivation</text>
<path d="M1232.6 307.5 V282.7 H1330.4 V307.5" fill="none" stroke="#111" stroke-width="4.2" stroke-linejoin="miter"/>
<path d="M1435 308.8 V284.5 H1533 V308.8" fill="none" stroke="#111" stroke-width="4.2" stroke-linejoin="miter"/>
<text transform="translate(1308.6 272.1) rotate(-90)" font-size="50" font-weight="bold" text-anchor="start" letter-spacing="2.25">***</text>
<text transform="translate(1511.2 273.8) rotate(-90)" font-size="50" font-weight="bold" text-anchor="start" letter-spacing="2.25">***</text>
<text transform="translate(1292.8 878) scale(1.15 1)" font-size="21" font-weight="normal" text-anchor="middle" stroke="#000" stroke-width="0.7" stroke-linejoin="round">hours</text>
<text transform="translate(1296.2 905.6) scale(1.15 1)" font-size="21" font-weight="normal" text-anchor="middle" stroke="#000" stroke-width="0.7" stroke-linejoin="round">1-12</text>
<text transform="translate(1296.1 933.2) scale(1.15 1)" font-size="21" font-weight="normal" text-anchor="middle" stroke="#000" stroke-width="0.7" stroke-linejoin="round">(light phase)</text>
<text transform="translate(1489.5 880.3) scale(1.15 1)" font-size="21" font-weight="normal" text-anchor="middle" stroke="#000" stroke-width="0.7" stroke-linejoin="round">hours</text>
<text transform="translate(1493 907.9) scale(1.15 1)" font-size="21" font-weight="normal" text-anchor="middle" stroke="#000" stroke-width="0.7" stroke-linejoin="round">1-24</text>
<text transform="translate(1493 935.5) scale(1.15 1)" font-size="21" font-weight="normal" text-anchor="middle" stroke="#000" stroke-width="0.7" stroke-linejoin="round">(whole day)</text>
</g>
<g id="panel-c">
<line x1="139.8" y1="1502" x2="139.8" y2="1667" stroke="#9a9a9a" stroke-width="1.3" stroke-linecap="butt"/>
<line x1="132.4" y1="1502" x2="147.2" y2="1502" stroke="#9a9a9a" stroke-width="1.3" stroke-linecap="butt"/>
<line x1="132.4" y1="1667" x2="147.2" y2="1667" stroke="#9a9a9a" stroke-width="1.3" stroke-linecap="butt"/>
<line x1="186.2" y1="1148.2" x2="186.2" y2="1387.8" stroke="#9a9a9a" stroke-width="1.3" stroke-linecap="butt"/>
<line x1="178.8" y1="1148.2" x2="193.6" y2="1148.2" stroke="#9a9a9a" stroke-width="1.3" stroke-linecap="butt"/>
<line x1="178.8" y1="1387.8" x2="193.6" y2="1387.8" stroke="#9a9a9a" stroke-width="1.3" stroke-linecap="butt"/>
<line x1="232.6" y1="1212.7" x2="232.6" y2="1491.7" stroke="#9a9a9a" stroke-width="1.3" stroke-linecap="butt"/>
<line x1="225.2" y1="1212.7" x2="240" y2="1212.7" stroke="#9a9a9a" stroke-width="1.3" stroke-linecap="butt"/>
<line x1="225.2" y1="1491.7" x2="240" y2="1491.7" stroke="#9a9a9a" stroke-width="1.3" stroke-linecap="butt"/>
<line x1="279" y1="1419" x2="279" y2="1550.4" stroke="#9a9a9a" stroke-width="1.3" stroke-linecap="butt"/>
<line x1="271.6" y1="1419" x2="286.4" y2="1419" stroke="#9a9a9a" stroke-width="1.3" stroke-linecap="butt"/>
<line x1="271.6" y1="1550.4" x2="286.4" y2="1550.4" stroke="#9a9a9a" stroke-width="1.3" stroke-linecap="butt"/>
<line x1="325.4" y1="1470.8" x2="325.4" y2="1614" stroke="#9a9a9a" stroke-width="1.3" stroke-linecap="butt"/>
<line x1="318" y1="1470.8" x2="332.8" y2="1470.8" stroke="#9a9a9a" stroke-width="1.3" stroke-linecap="butt"/>
<line x1="318" y1="1614" x2="332.8" y2="1614" stroke="#9a9a9a" stroke-width="1.3" stroke-linecap="butt"/>
<line x1="371.8" y1="1336.4" x2="371.8" y2="1512.4" stroke="#9a9a9a" stroke-width="1.3" stroke-linecap="butt"/>
<line x1="364.4" y1="1336.4" x2="379.2" y2="1336.4" stroke="#9a9a9a" stroke-width="1.3" stroke-linecap="butt"/>
<line x1="364.4" y1="1512.4" x2="379.2" y2="1512.4" stroke="#9a9a9a" stroke-width="1.3" stroke-linecap="butt"/>
<line x1="418.2" y1="1300.9" x2="418.2" y2="1406.9" stroke="#9a9a9a" stroke-width="1.3" stroke-linecap="butt"/>
<line x1="410.8" y1="1300.9" x2="425.6" y2="1300.9" stroke="#9a9a9a" stroke-width="1.3" stroke-linecap="butt"/>
<line x1="410.8" y1="1406.9" x2="425.6" y2="1406.9" stroke="#9a9a9a" stroke-width="1.3" stroke-linecap="butt"/>
<line x1="464.6" y1="1255.1" x2="464.6" y2="1485.7" stroke="#9a9a9a" stroke-width="1.3" stroke-linecap="butt"/>
<line x1="457.2" y1="1255.1" x2="472" y2="1255.1" stroke="#9a9a9a" stroke-width="1.3" stroke-linecap="butt"/>
<line x1="457.2" y1="1485.7" x2="472" y2="1485.7" stroke="#9a9a9a" stroke-width="1.3" stroke-linecap="butt"/>
<line x1="511" y1="1481.7" x2="511" y2="1640.5" stroke="#9a9a9a" stroke-width="1.3" stroke-linecap="butt"/>
<line x1="503.6" y1="1481.7" x2="518.4" y2="1481.7" stroke="#9a9a9a" stroke-width="1.3" stroke-linecap="butt"/>
<line x1="503.6" y1="1640.5" x2="518.4" y2="1640.5" stroke="#9a9a9a" stroke-width="1.3" stroke-linecap="butt"/>
<line x1="557.4" y1="1271.2" x2="557.4" y2="1491.7" stroke="#9a9a9a" stroke-width="1.3" stroke-linecap="butt"/>
<line x1="550" y1="1271.2" x2="564.8" y2="1271.2" stroke="#9a9a9a" stroke-width="1.3" stroke-linecap="butt"/>
<line x1="550" y1="1491.7" x2="564.8" y2="1491.7" stroke="#9a9a9a" stroke-width="1.3" stroke-linecap="butt"/>
<line x1="603.8" y1="1508.4" x2="603.8" y2="1555" stroke="#9a9a9a" stroke-width="1.3" stroke-linecap="butt"/>
<line x1="596.4" y1="1508.4" x2="611.2" y2="1508.4" stroke="#9a9a9a" stroke-width="1.3" stroke-linecap="butt"/>
<line x1="596.4" y1="1555" x2="611.2" y2="1555" stroke="#9a9a9a" stroke-width="1.3" stroke-linecap="butt"/>
<line x1="650.2" y1="1221.9" x2="650.2" y2="1527" stroke="#9a9a9a" stroke-width="1.3" stroke-linecap="butt"/>
<line x1="642.8" y1="1221.9" x2="657.6" y2="1221.9" stroke="#9a9a9a" stroke-width="1.3" stroke-linecap="butt"/>
<line x1="642.8" y1="1527" x2="657.6" y2="1527" stroke="#9a9a9a" stroke-width="1.3" stroke-linecap="butt"/>
<line x1="696.6" y1="1413.3" x2="696.6" y2="1652.3" stroke="#9a9a9a" stroke-width="1.3" stroke-linecap="butt"/>
<line x1="689.2" y1="1413.3" x2="704" y2="1413.3" stroke="#9a9a9a" stroke-width="1.3" stroke-linecap="butt"/>
<line x1="689.2" y1="1652.3" x2="704" y2="1652.3" stroke="#9a9a9a" stroke-width="1.3" stroke-linecap="butt"/>
<line x1="743" y1="1412.5" x2="743" y2="1558" stroke="#9a9a9a" stroke-width="1.3" stroke-linecap="butt"/>
<line x1="735.6" y1="1412.5" x2="750.4" y2="1412.5" stroke="#9a9a9a" stroke-width="1.3" stroke-linecap="butt"/>
<line x1="735.6" y1="1558" x2="750.4" y2="1558" stroke="#9a9a9a" stroke-width="1.3" stroke-linecap="butt"/>
<line x1="789.4" y1="1414.6" x2="789.4" y2="1584" stroke="#9a9a9a" stroke-width="1.3" stroke-linecap="butt"/>
<line x1="782" y1="1414.6" x2="796.8" y2="1414.6" stroke="#9a9a9a" stroke-width="1.3" stroke-linecap="butt"/>
<line x1="782" y1="1584" x2="796.8" y2="1584" stroke="#9a9a9a" stroke-width="1.3" stroke-linecap="butt"/>
<line x1="835.8" y1="1520.7" x2="835.8" y2="1680.2" stroke="#9a9a9a" stroke-width="1.3" stroke-linecap="butt"/>
<line x1="828.4" y1="1520.7" x2="843.2" y2="1520.7" stroke="#9a9a9a" stroke-width="1.3" stroke-linecap="butt"/>
<line x1="828.4" y1="1680.2" x2="843.2" y2="1680.2" stroke="#9a9a9a" stroke-width="1.3" stroke-linecap="butt"/>
<line x1="882.2" y1="1355.1" x2="882.2" y2="1573" stroke="#9a9a9a" stroke-width="1.3" stroke-linecap="butt"/>
<line x1="874.8" y1="1355.1" x2="889.6" y2="1355.1" stroke="#9a9a9a" stroke-width="1.3" stroke-linecap="butt"/>
<line x1="874.8" y1="1573" x2="889.6" y2="1573" stroke="#9a9a9a" stroke-width="1.3" stroke-linecap="butt"/>
<line x1="928.6" y1="1312.5" x2="928.6" y2="1431.5" stroke="#9a9a9a" stroke-width="1.3" stroke-linecap="butt"/>
<line x1="921.2" y1="1312.5" x2="936" y2="1312.5" stroke="#9a9a9a" stroke-width="1.3" stroke-linecap="butt"/>
<line x1="921.2" y1="1431.5" x2="936" y2="1431.5" stroke="#9a9a9a" stroke-width="1.3" stroke-linecap="butt"/>
<polyline points="139.8,1584.4 186.2,1268 232.6,1352.6 279,1484.9 325.4,1542.3 371.8,1424.5 418.2,1353.5 464.6,1370.4 511,1561.1 557.4,1381.2 603.8,1531.7 650.2,1374.7 696.6,1532.8 743,1485.8 789.4,1499.3 835.8,1600.4 882.2,1464.2 928.6,1372.4" fill="none" stroke="#818181" stroke-width="3.6" stroke-linejoin="round" stroke-linecap="round"/>
<rect x="134.6" y="1579.2" width="10.4" height="10.4" fill="#818181"/>
<rect x="181" y="1262.8" width="10.4" height="10.4" fill="#818181"/>
<rect x="227.4" y="1347.4" width="10.4" height="10.4" fill="#818181"/>
<rect x="273.8" y="1479.7" width="10.4" height="10.4" fill="#818181"/>
<rect x="320.2" y="1537.1" width="10.4" height="10.4" fill="#818181"/>
<rect x="366.6" y="1419.3" width="10.4" height="10.4" fill="#818181"/>
<rect x="413" y="1348.3" width="10.4" height="10.4" fill="#818181"/>
<rect x="459.4" y="1365.2" width="10.4" height="10.4" fill="#818181"/>
<rect x="505.8" y="1555.9" width="10.4" height="10.4" fill="#818181"/>
<rect x="552.2" y="1376" width="10.4" height="10.4" fill="#818181"/>
<rect x="598.6" y="1526.5" width="10.4" height="10.4" fill="#818181"/>
<rect x="645" y="1369.5" width="10.4" height="10.4" fill="#818181"/>
<rect x="691.4" y="1527.6" width="10.4" height="10.4" fill="#818181"/>
<rect x="737.8" y="1480.6" width="10.4" height="10.4" fill="#818181"/>
<rect x="784.2" y="1494.1" width="10.4" height="10.4" fill="#818181"/>
<rect x="830.6" y="1595.2" width="10.4" height="10.4" fill="#818181"/>
<rect x="877" y="1459" width="10.4" height="10.4" fill="#818181"/>
<rect x="923.4" y="1367.2" width="10.4" height="10.4" fill="#818181"/>
<line x1="139.8" y1="1433.6" x2="139.8" y2="1567.3" stroke="#2a2a2a" stroke-width="1.3" stroke-linecap="butt"/>
<line x1="132.4" y1="1433.6" x2="147.2" y2="1433.6" stroke="#2a2a2a" stroke-width="1.3" stroke-linecap="butt"/>
<line x1="132.4" y1="1567.3" x2="147.2" y2="1567.3" stroke="#2a2a2a" stroke-width="1.3" stroke-linecap="butt"/>
<line x1="186.2" y1="1298.8" x2="186.2" y2="1469.6" stroke="#2a2a2a" stroke-width="1.3" stroke-linecap="butt"/>
<line x1="178.8" y1="1298.8" x2="193.6" y2="1298.8" stroke="#2a2a2a" stroke-width="1.3" stroke-linecap="butt"/>
<line x1="178.8" y1="1469.6" x2="193.6" y2="1469.6" stroke="#2a2a2a" stroke-width="1.3" stroke-linecap="butt"/>
<line x1="232.6" y1="1302.9" x2="232.6" y2="1575.6" stroke="#2a2a2a" stroke-width="1.3" stroke-linecap="butt"/>
<line x1="225.2" y1="1302.9" x2="240" y2="1302.9" stroke="#2a2a2a" stroke-width="1.3" stroke-linecap="butt"/>
<line x1="225.2" y1="1575.6" x2="240" y2="1575.6" stroke="#2a2a2a" stroke-width="1.3" stroke-linecap="butt"/>
<line x1="279" y1="1391.2" x2="279" y2="1497.5" stroke="#2a2a2a" stroke-width="1.3" stroke-linecap="butt"/>
<line x1="271.6" y1="1391.2" x2="286.4" y2="1391.2" stroke="#2a2a2a" stroke-width="1.3" stroke-linecap="butt"/>
<line x1="271.6" y1="1497.5" x2="286.4" y2="1497.5" stroke="#2a2a2a" stroke-width="1.3" stroke-linecap="butt"/>
<line x1="325.4" y1="1231.3" x2="325.4" y2="1330.5" stroke="#2a2a2a" stroke-width="1.3" stroke-linecap="butt"/>
<line x1="318" y1="1231.3" x2="332.8" y2="1231.3" stroke="#2a2a2a" stroke-width="1.3" stroke-linecap="butt"/>
<line x1="318" y1="1330.5" x2="332.8" y2="1330.5" stroke="#2a2a2a" stroke-width="1.3" stroke-linecap="butt"/>
<line x1="371.8" y1="1331.6" x2="371.8" y2="1589.9" stroke="#2a2a2a" stroke-width="1.3" stroke-linecap="butt"/>
<line x1="364.4" y1="1331.6" x2="379.2" y2="1331.6" stroke="#2a2a2a" stroke-width="1.3" stroke-linecap="butt"/>
<line x1="364.4" y1="1589.9" x2="379.2" y2="1589.9" stroke="#2a2a2a" stroke-width="1.3" stroke-linecap="butt"/>
<line x1="418.2" y1="1475.4" x2="418.2" y2="1619.4" stroke="#2a2a2a" stroke-width="1.3" stroke-linecap="butt"/>
<line x1="410.8" y1="1475.4" x2="425.6" y2="1475.4" stroke="#2a2a2a" stroke-width="1.3" stroke-linecap="butt"/>
<line x1="410.8" y1="1619.4" x2="425.6" y2="1619.4" stroke="#2a2a2a" stroke-width="1.3" stroke-linecap="butt"/>
<line x1="464.6" y1="1282.8" x2="464.6" y2="1493.7" stroke="#2a2a2a" stroke-width="1.3" stroke-linecap="butt"/>
<line x1="457.2" y1="1282.8" x2="472" y2="1282.8" stroke="#2a2a2a" stroke-width="1.3" stroke-linecap="butt"/>
<line x1="457.2" y1="1493.7" x2="472" y2="1493.7" stroke="#2a2a2a" stroke-width="1.3" stroke-linecap="butt"/>
<line x1="511" y1="1361.8" x2="511" y2="1547.6" stroke="#2a2a2a" stroke-width="1.3" stroke-linecap="butt"/>
<line x1="503.6" y1="1361.8" x2="518.4" y2="1361.8" stroke="#2a2a2a" stroke-width="1.3" stroke-linecap="butt"/>
<line x1="503.6" y1="1547.6" x2="518.4" y2="1547.6" stroke="#2a2a2a" stroke-width="1.3" stroke-linecap="butt"/>
<line x1="557.4" y1="1190.7" x2="557.4" y2="1403.4" stroke="#2a2a2a" stroke-width="1.3" stroke-linecap="butt"/>
<line x1="550" y1="1190.7" x2="564.8" y2="1190.7" stroke="#2a2a2a" stroke-width="1.3" stroke-linecap="butt"/>
<line x1="550" y1="1403.4" x2="564.8" y2="1403.4" stroke="#2a2a2a" stroke-width="1.3" stroke-linecap="butt"/>
<line x1="603.8" y1="1478.1" x2="603.8" y2="1558.5" stroke="#2a2a2a" stroke-width="1.3" stroke-linecap="butt"/>
<line x1="596.4" y1="1478.1" x2="611.2" y2="1478.1" stroke="#2a2a2a" stroke-width="1.3" stroke-linecap="butt"/>
<line x1="596.4" y1="1558.5" x2="611.2" y2="1558.5" stroke="#2a2a2a" stroke-width="1.3" stroke-linecap="butt"/>
<line x1="650.2" y1="1187.1" x2="650.2" y2="1487.7" stroke="#2a2a2a" stroke-width="1.3" stroke-linecap="butt"/>
<line x1="642.8" y1="1187.1" x2="657.6" y2="1187.1" stroke="#2a2a2a" stroke-width="1.3" stroke-linecap="butt"/>
<line x1="642.8" y1="1487.7" x2="657.6" y2="1487.7" stroke="#2a2a2a" stroke-width="1.3" stroke-linecap="butt"/>
<line x1="696.6" y1="1402.6" x2="696.6" y2="1438.1" stroke="#2a2a2a" stroke-width="1.3" stroke-linecap="butt"/>
<line x1="689.2" y1="1402.6" x2="704" y2="1402.6" stroke="#2a2a2a" stroke-width="1.3" stroke-linecap="butt"/>
<line x1="689.2" y1="1438.1" x2="704" y2="1438.1" stroke="#2a2a2a" stroke-width="1.3" stroke-linecap="butt"/>
<line x1="743" y1="1290.2" x2="743" y2="1457.3" stroke="#2a2a2a" stroke-width="1.3" stroke-linecap="butt"/>
<line x1="735.6" y1="1290.2" x2="750.4" y2="1290.2" stroke="#2a2a2a" stroke-width="1.3" stroke-linecap="butt"/>
<line x1="735.6" y1="1457.3" x2="750.4" y2="1457.3" stroke="#2a2a2a" stroke-width="1.3" stroke-linecap="butt"/>
<line x1="789.4" y1="1446.1" x2="789.4" y2="1613.2" stroke="#2a2a2a" stroke-width="1.3" stroke-linecap="butt"/>
<line x1="782" y1="1446.1" x2="796.8" y2="1446.1" stroke="#2a2a2a" stroke-width="1.3" stroke-linecap="butt"/>
<line x1="782" y1="1613.2" x2="796.8" y2="1613.2" stroke="#2a2a2a" stroke-width="1.3" stroke-linecap="butt"/>
<line x1="835.8" y1="1169.5" x2="835.8" y2="1368.2" stroke="#2a2a2a" stroke-width="1.3" stroke-linecap="butt"/>
<line x1="828.4" y1="1169.5" x2="843.2" y2="1169.5" stroke="#2a2a2a" stroke-width="1.3" stroke-linecap="butt"/>
<line x1="828.4" y1="1368.2" x2="843.2" y2="1368.2" stroke="#2a2a2a" stroke-width="1.3" stroke-linecap="butt"/>
<line x1="882.2" y1="1479.6" x2="882.2" y2="1635.5" stroke="#2a2a2a" stroke-width="1.3" stroke-linecap="butt"/>
<line x1="874.8" y1="1479.6" x2="889.6" y2="1479.6" stroke="#2a2a2a" stroke-width="1.3" stroke-linecap="butt"/>
<line x1="874.8" y1="1635.5" x2="889.6" y2="1635.5" stroke="#2a2a2a" stroke-width="1.3" stroke-linecap="butt"/>
<line x1="928.6" y1="1392.3" x2="928.6" y2="1506.1" stroke="#2a2a2a" stroke-width="1.3" stroke-linecap="butt"/>
<line x1="921.2" y1="1392.3" x2="936" y2="1392.3" stroke="#2a2a2a" stroke-width="1.3" stroke-linecap="butt"/>
<line x1="921.2" y1="1506.1" x2="936" y2="1506.1" stroke="#2a2a2a" stroke-width="1.3" stroke-linecap="butt"/>
<polyline points="139.8,1500.3 186.2,1384 232.6,1439.1 279,1444.2 325.4,1280.8 371.8,1460.8 418.2,1547.5 464.6,1388.8 511,1455.2 557.4,1297.4 603.8,1518.4 650.2,1337.9 696.6,1420.2 743,1373.9 789.4,1529.5 835.8,1269 882.2,1558 928.6,1449.9" fill="none" stroke="#000" stroke-width="5.8" stroke-linejoin="round" stroke-linecap="round"/>
<circle cx="139.8" cy="1500.3" r="8.6" fill="#000"/>
<circle cx="186.2" cy="1384" r="8.6" fill="#000"/>
<circle cx="232.6" cy="1439.1" r="8.6" fill="#000"/>
<circle cx="279" cy="1444.2" r="8.6" fill="#000"/>
<circle cx="325.4" cy="1280.8" r="8.6" fill="#000"/>
<circle cx="371.8" cy="1460.8" r="8.6" fill="#000"/>
<circle cx="418.2" cy="1547.5" r="8.6" fill="#000"/>
<circle cx="464.6" cy="1388.8" r="8.6" fill="#000"/>
<circle cx="511" cy="1455.2" r="8.6" fill="#000"/>
<circle cx="557.4" cy="1297.4" r="8.6" fill="#000"/>
<circle cx="603.8" cy="1518.4" r="8.6" fill="#000"/>
<circle cx="650.2" cy="1337.9" r="8.6" fill="#000"/>
<circle cx="696.6" cy="1420.2" r="8.6" fill="#000"/>
<circle cx="743" cy="1373.9" r="8.6" fill="#000"/>
<circle cx="789.4" cy="1529.5" r="8.6" fill="#000"/>
<circle cx="835.8" cy="1269" r="8.6" fill="#000"/>
<circle cx="882.2" cy="1558" r="8.6" fill="#000"/>
<circle cx="928.6" cy="1449.9" r="8.6" fill="#000"/>
<line x1="116.6" y1="1026.3" x2="116.6" y2="1802.7" stroke="#000" stroke-width="5.2" stroke-linecap="round"/>
<line x1="99.4" y1="1800.7" x2="116.6" y2="1800.7" stroke="#000" stroke-width="5.7" stroke-linecap="round"/>
<line x1="107.5" y1="1768.45" x2="116.6" y2="1768.45" stroke="#000" stroke-width="5.1" stroke-linecap="round"/>
<line x1="99.4" y1="1736.2" x2="116.6" y2="1736.2" stroke="#000" stroke-width="5.7" stroke-linecap="round"/>
<line x1="107.5" y1="1703.95" x2="116.6" y2="1703.95" stroke="#000" stroke-width="5.1" stroke-linecap="round"/>
<line x1="99.4" y1="1671.7" x2="116.6" y2="1671.7" stroke="#000" stroke-width="5.7" stroke-linecap="round"/>
<line x1="107.5" y1="1639.45" x2="116.6" y2="1639.45" stroke="#000" stroke-width="5.1" stroke-linecap="round"/>
<line x1="99.4" y1="1607.2" x2="116.6" y2="1607.2" stroke="#000" stroke-width="5.7" stroke-linecap="round"/>
<line x1="107.5" y1="1574.95" x2="116.6" y2="1574.95" stroke="#000" stroke-width="5.1" stroke-linecap="round"/>
<line x1="99.4" y1="1542.7" x2="116.6" y2="1542.7" stroke="#000" stroke-width="5.7" stroke-linecap="round"/>
<line x1="107.5" y1="1510.45" x2="116.6" y2="1510.45" stroke="#000" stroke-width="5.1" stroke-linecap="round"/>
<line x1="99.4" y1="1478.2" x2="116.6" y2="1478.2" stroke="#000" stroke-width="5.7" stroke-linecap="round"/>
<line x1="107.5" y1="1445.95" x2="116.6" y2="1445.95" stroke="#000" stroke-width="5.1" stroke-linecap="round"/>
<line x1="99.4" y1="1413.7" x2="116.6" y2="1413.7" stroke="#000" stroke-width="5.7" stroke-linecap="round"/>
<line x1="107.5" y1="1381.45" x2="116.6" y2="1381.45" stroke="#000" stroke-width="5.1" stroke-linecap="round"/>
<line x1="99.4" y1="1349.2" x2="116.6" y2="1349.2" stroke="#000" stroke-width="5.7" stroke-linecap="round"/>
<line x1="107.5" y1="1316.95" x2="116.6" y2="1316.95" stroke="#000" stroke-width="5.1" stroke-linecap="round"/>
<line x1="99.4" y1="1284.7" x2="116.6" y2="1284.7" stroke="#000" stroke-width="5.7" stroke-linecap="round"/>
<line x1="107.5" y1="1252.45" x2="116.6" y2="1252.45" stroke="#000" stroke-width="5.1" stroke-linecap="round"/>
<line x1="99.4" y1="1220.2" x2="116.6" y2="1220.2" stroke="#000" stroke-width="5.7" stroke-linecap="round"/>
<line x1="107.5" y1="1187.95" x2="116.6" y2="1187.95" stroke="#000" stroke-width="5.1" stroke-linecap="round"/>
<line x1="99.4" y1="1155.7" x2="116.6" y2="1155.7" stroke="#000" stroke-width="5.7" stroke-linecap="round"/>
<line x1="107.5" y1="1123.45" x2="116.6" y2="1123.45" stroke="#000" stroke-width="5.1" stroke-linecap="round"/>
<line x1="99.4" y1="1091.2" x2="116.6" y2="1091.2" stroke="#000" stroke-width="5.7" stroke-linecap="round"/>
<line x1="107.5" y1="1058.95" x2="116.6" y2="1058.95" stroke="#000" stroke-width="5.1" stroke-linecap="round"/>
<line x1="99.4" y1="1026.7" x2="116.6" y2="1026.7" stroke="#000" stroke-width="5.7" stroke-linecap="round"/>
<line x1="99.4" y1="1800.7" x2="952.5" y2="1800.7" stroke="#000" stroke-width="4.8" stroke-linecap="round"/>
<line x1="139.8" y1="1800.7" x2="139.8" y2="1817.5" stroke="#000" stroke-width="5.4" stroke-linecap="round"/>
<line x1="186.2" y1="1800.7" x2="186.2" y2="1817.5" stroke="#000" stroke-width="5.4" stroke-linecap="round"/>
<line x1="232.6" y1="1800.7" x2="232.6" y2="1817.5" stroke="#000" stroke-width="5.4" stroke-linecap="round"/>
<line x1="279" y1="1800.7" x2="279" y2="1817.5" stroke="#000" stroke-width="5.4" stroke-linecap="round"/>
<line x1="325.4" y1="1800.7" x2="325.4" y2="1817.5" stroke="#000" stroke-width="5.4" stroke-linecap="round"/>
<line x1="371.8" y1="1800.7" x2="371.8" y2="1817.5" stroke="#000" stroke-width="5.4" stroke-linecap="round"/>
<line x1="418.2" y1="1800.7" x2="418.2" y2="1817.5" stroke="#000" stroke-width="5.4" stroke-linecap="round"/>
<line x1="464.6" y1="1800.7" x2="464.6" y2="1817.5" stroke="#000" stroke-width="5.4" stroke-linecap="round"/>
<line x1="511" y1="1800.7" x2="511" y2="1817.5" stroke="#000" stroke-width="5.4" stroke-linecap="round"/>
<line x1="557.4" y1="1800.7" x2="557.4" y2="1817.5" stroke="#000" stroke-width="5.4" stroke-linecap="round"/>
<line x1="603.8" y1="1800.7" x2="603.8" y2="1817.5" stroke="#000" stroke-width="5.4" stroke-linecap="round"/>
<line x1="650.2" y1="1800.7" x2="650.2" y2="1817.5" stroke="#000" stroke-width="5.4" stroke-linecap="round"/>
<line x1="696.6" y1="1800.7" x2="696.6" y2="1817.5" stroke="#000" stroke-width="5.4" stroke-linecap="round"/>
<line x1="743" y1="1800.7" x2="743" y2="1817.5" stroke="#000" stroke-width="5.4" stroke-linecap="round"/>
<line x1="789.4" y1="1800.7" x2="789.4" y2="1817.5" stroke="#000" stroke-width="5.4" stroke-linecap="round"/>
<line x1="835.8" y1="1800.7" x2="835.8" y2="1817.5" stroke="#000" stroke-width="5.4" stroke-linecap="round"/>
<line x1="882.2" y1="1800.7" x2="882.2" y2="1817.5" stroke="#000" stroke-width="5.4" stroke-linecap="round"/>
<line x1="928.6" y1="1800.7" x2="928.6" y2="1817.5" stroke="#000" stroke-width="5.4" stroke-linecap="round"/>
<rect x="123.8" y="1796.8" width="827.5" height="2.7" fill="#fff"/>
<rect x="125.4" y="1772.6" width="822.3" height="24.3" fill="#000"/>
<rect x="128" y="1775.2" width="36.9" height="19.5" fill="#fff"/>
<rect x="213.3" y="1775.2" width="43.3" height="19.5" fill="#fff"/>
<rect x="305" y="1775.2" width="43.3" height="19.5" fill="#fff"/>
<rect x="396.7" y="1775.2" width="43.3" height="19.5" fill="#fff"/>
<rect x="488.4" y="1775.2" width="43.3" height="19.5" fill="#fff"/>
<rect x="580.1" y="1775.2" width="43.3" height="19.5" fill="#fff"/>
<rect x="671.8" y="1775.2" width="43.3" height="19.5" fill="#fff"/>
<rect x="763.5" y="1775.2" width="43.3" height="19.5" fill="#fff"/>
<rect x="855.2" y="1775.2" width="43.3" height="19.5" fill="#fff"/>
<text transform="translate(88 1807.9) scale(0.95 1)" font-size="33.5" font-weight="bold" text-anchor="end" stroke="#000" stroke-width="0.6" stroke-linejoin="round">0</text>
<text transform="translate(88 1743.4) scale(0.95 1)" font-size="33.5" font-weight="bold" text-anchor="end" stroke="#000" stroke-width="0.6" stroke-linejoin="round">1</text>
<text transform="translate(88 1678.9) scale(0.95 1)" font-size="33.5" font-weight="bold" text-anchor="end" stroke="#000" stroke-width="0.6" stroke-linejoin="round">2</text>
<text transform="translate(88 1614.4) scale(0.95 1)" font-size="33.5" font-weight="bold" text-anchor="end" stroke="#000" stroke-width="0.6" stroke-linejoin="round">3</text>
<text transform="translate(88 1549.9) scale(0.95 1)" font-size="33.5" font-weight="bold" text-anchor="end" stroke="#000" stroke-width="0.6" stroke-linejoin="round">4</text>
<text transform="translate(88 1485.4) scale(0.95 1)" font-size="33.5" font-weight="bold" text-anchor="end" stroke="#000" stroke-width="0.6" stroke-linejoin="round">5</text>
<text transform="translate(88 1420.9) scale(0.95 1)" font-size="33.5" font-weight="bold" text-anchor="end" stroke="#000" stroke-width="0.6" stroke-linejoin="round">6</text>
<text transform="translate(88 1356.4) scale(0.95 1)" font-size="33.5" font-weight="bold" text-anchor="end" stroke="#000" stroke-width="0.6" stroke-linejoin="round">7</text>
<text transform="translate(88 1291.9) scale(0.95 1)" font-size="33.5" font-weight="bold" text-anchor="end" stroke="#000" stroke-width="0.6" stroke-linejoin="round">8</text>
<text transform="translate(88 1227.4) scale(0.95 1)" font-size="33.5" font-weight="bold" text-anchor="end" stroke="#000" stroke-width="0.6" stroke-linejoin="round">9</text>
<text transform="translate(88 1162.9) scale(0.95 1)" font-size="33.5" font-weight="bold" text-anchor="end" stroke="#000" stroke-width="0.6" stroke-linejoin="round">10</text>
<text transform="translate(88 1098.4) scale(0.95 1)" font-size="33.5" font-weight="bold" text-anchor="end" stroke="#000" stroke-width="0.6" stroke-linejoin="round">11</text>
<text transform="translate(88 1033.9) scale(0.95 1)" font-size="33.5" font-weight="bold" text-anchor="end" stroke="#000" stroke-width="0.6" stroke-linejoin="round">12</text>
<text x="139.8" y="1845" font-size="20.8" font-weight="bold" text-anchor="middle" stroke="#000" stroke-width="0.5" stroke-linejoin="round">R1</text>
<text x="186.2" y="1845" font-size="20.8" font-weight="bold" text-anchor="middle" stroke="#000" stroke-width="0.5" stroke-linejoin="round">R2</text>
<text x="232.6" y="1845" font-size="20.8" font-weight="bold" text-anchor="middle" stroke="#000" stroke-width="0.5" stroke-linejoin="round">R3</text>
<text x="279" y="1845" font-size="20.8" font-weight="bold" text-anchor="middle" stroke="#000" stroke-width="0.5" stroke-linejoin="round">R4</text>
<text x="325.4" y="1845" font-size="20.8" font-weight="bold" text-anchor="middle" stroke="#000" stroke-width="0.5" stroke-linejoin="round">R5</text>
<text x="371.8" y="1845" font-size="20.8" font-weight="bold" text-anchor="middle" stroke="#000" stroke-width="0.5" stroke-linejoin="round">R6</text>
<text x="418.2" y="1845" font-size="20.8" font-weight="bold" text-anchor="middle" stroke="#000" stroke-width="0.5" stroke-linejoin="round">R7</text>
<text x="464.6" y="1845" font-size="20.8" font-weight="bold" text-anchor="middle" stroke="#000" stroke-width="0.5" stroke-linejoin="round">R8</text>
<text x="511" y="1845" font-size="20.8" font-weight="bold" text-anchor="middle" stroke="#000" stroke-width="0.5" stroke-linejoin="round">R9</text>
<text x="557.4" y="1845" font-size="20.8" font-weight="bold" text-anchor="middle" stroke="#000" stroke-width="0.5" stroke-linejoin="round">R10</text>
<text x="603.8" y="1845" font-size="20.8" font-weight="bold" text-anchor="middle" stroke="#000" stroke-width="0.5" stroke-linejoin="round">R11</text>
<text x="650.2" y="1845" font-size="20.8" font-weight="bold" text-anchor="middle" stroke="#000" stroke-width="0.5" stroke-linejoin="round">R12</text>
<text x="696.6" y="1845" font-size="20.8" font-weight="bold" text-anchor="middle" stroke="#000" stroke-width="0.5" stroke-linejoin="round">R13</text>
<text x="743" y="1845" font-size="20.8" font-weight="bold" text-anchor="middle" stroke="#000" stroke-width="0.5" stroke-linejoin="round">R14</text>
<text x="789.4" y="1845" font-size="20.8" font-weight="bold" text-anchor="middle" stroke="#000" stroke-width="0.5" stroke-linejoin="round">R15</text>
<text x="835.8" y="1845" font-size="20.8" font-weight="bold" text-anchor="middle" stroke="#000" stroke-width="0.5" stroke-linejoin="round">R16</text>
<text x="882.2" y="1845" font-size="20.8" font-weight="bold" text-anchor="middle" stroke="#000" stroke-width="0.5" stroke-linejoin="round">R17</text>
<text x="928.6" y="1845" font-size="20.8" font-weight="bold" text-anchor="middle" stroke="#000" stroke-width="0.5" stroke-linejoin="round">R18</text>
<text transform="translate(23 1433.7) rotate(-90) scale(0.96 1)" font-size="32.3" font-weight="bold" text-anchor="middle">REM sleep time (min/h)</text>
<text transform="translate(984.7 1843) scale(1.2 1)" font-size="20.3" font-weight="normal" text-anchor="middle" stroke="#000" stroke-width="0.8" stroke-linejoin="round">time</text>
<text transform="translate(984.7 1870.9) scale(1.2 1)" font-size="20.3" font-weight="normal" text-anchor="middle" stroke="#000" stroke-width="0.8" stroke-linejoin="round">(hours)</text>
<text transform="translate(9 1003) scale(1 1)" font-size="42" font-weight="bold" text-anchor="start">c</text>
<line x1="635.8" y1="964.7" x2="707.3" y2="964.7" stroke="#818181" stroke-width="3.2" stroke-linecap="round"/>
<rect x="658.5" y="951.7" width="26" height="26" fill="#818181"/>
<line x1="636.1" y1="1004.4" x2="707" y2="1004.4" stroke="#000" stroke-width="6" stroke-linecap="round"/>
<circle cx="671.5" cy="1004.4" r="14.1" fill="#000"/>
<text transform="translate(716.6 975.5) scale(1.05 1)" font-size="30.6" font-weight="normal" text-anchor="start">LD 1:1 baseline</text>
<text transform="translate(716.6 1015.3) scale(1.05 1)" font-size="30.6" font-weight="normal" text-anchor="start">LD 1:1 deprivation</text>
<text transform="translate(334.9 1077.2) rotate(-90)" font-size="30" font-weight="normal" text-anchor="start" stroke="#000" stroke-width="0.7" stroke-linejoin="round" letter-spacing="2.9">***</text>
<text transform="translate(428.9 1077.1) rotate(-90)" font-size="30" font-weight="normal" text-anchor="start" stroke="#000" stroke-width="0.7" stroke-linejoin="round" letter-spacing="2.9">*</text>
<text transform="translate(852.9 1077.2) rotate(-90)" font-size="30" font-weight="normal" text-anchor="start" stroke="#000" stroke-width="0.7" stroke-linejoin="round" letter-spacing="2.9">***</text>
</g>
<g id="panel-d">
<rect x="1198.2" y="1516.8" width="77.5" height="292.35" fill="#818181"/>
<line x1="1236.95" y1="1499.8" x2="1236.95" y2="1518" stroke="#000" stroke-width="3.4" stroke-linecap="round"/>
<line x1="1229.35" y1="1499.8" x2="1244.55" y2="1499.8" stroke="#000" stroke-width="3.4" stroke-linecap="round"/>
<rect x="1294.1" y="1634.3" width="77.5" height="174.85" fill="#000"/>
<line x1="1332.85" y1="1616.5" x2="1332.85" y2="1635.5" stroke="#000" stroke-width="3.4" stroke-linecap="round"/>
<line x1="1325.25" y1="1616.5" x2="1340.45" y2="1616.5" stroke="#000" stroke-width="3.4" stroke-linecap="round"/>
<rect x="1390.4" y="1206.2" width="77.5" height="602.95" fill="#818181"/>
<line x1="1429.15" y1="1152.3" x2="1429.15" y2="1207.4" stroke="#000" stroke-width="3.4" stroke-linecap="round"/>
<line x1="1421.55" y1="1152.3" x2="1436.75" y2="1152.3" stroke="#000" stroke-width="3.4" stroke-linecap="round"/>
<rect x="1487" y="1294.5" width="77.2" height="514.65" fill="#000"/>
<line x1="1525.6" y1="1258.7" x2="1525.6" y2="1295.7" stroke="#000" stroke-width="3.4" stroke-linecap="round"/>
<line x1="1518" y1="1258.7" x2="1533.2" y2="1258.7" stroke="#000" stroke-width="3.4" stroke-linecap="round"/>
<line x1="1188.4" y1="1120.03" x2="1188.4" y2="1810.55" stroke="#000" stroke-width="3.3" stroke-linecap="butt"/>
<line x1="1180.6" y1="1809.15" x2="1188.3" y2="1809.15" stroke="#000" stroke-width="2.6" stroke-linecap="butt"/>
<line x1="1183.8" y1="1784.59" x2="1188.3" y2="1784.59" stroke="#000" stroke-width="2.2" stroke-linecap="butt"/>
<line x1="1180.6" y1="1760.02" x2="1188.3" y2="1760.02" stroke="#000" stroke-width="2.6" stroke-linecap="butt"/>
<line x1="1183.8" y1="1735.46" x2="1188.3" y2="1735.46" stroke="#000" stroke-width="2.2" stroke-linecap="butt"/>
<line x1="1180.6" y1="1710.89" x2="1188.3" y2="1710.89" stroke="#000" stroke-width="2.6" stroke-linecap="butt"/>
<line x1="1183.8" y1="1686.33" x2="1188.3" y2="1686.33" stroke="#000" stroke-width="2.2" stroke-linecap="butt"/>
<line x1="1180.6" y1="1661.76" x2="1188.3" y2="1661.76" stroke="#000" stroke-width="2.6" stroke-linecap="butt"/>
<line x1="1183.8" y1="1637.2" x2="1188.3" y2="1637.2" stroke="#000" stroke-width="2.2" stroke-linecap="butt"/>
<line x1="1180.6" y1="1612.63" x2="1188.3" y2="1612.63" stroke="#000" stroke-width="2.6" stroke-linecap="butt"/>
<line x1="1183.8" y1="1588.07" x2="1188.3" y2="1588.07" stroke="#000" stroke-width="2.2" stroke-linecap="butt"/>
<line x1="1180.6" y1="1563.5" x2="1188.3" y2="1563.5" stroke="#000" stroke-width="2.6" stroke-linecap="butt"/>
<line x1="1183.8" y1="1538.93" x2="1188.3" y2="1538.93" stroke="#000" stroke-width="2.2" stroke-linecap="butt"/>
<line x1="1180.6" y1="1514.37" x2="1188.3" y2="1514.37" stroke="#000" stroke-width="2.6" stroke-linecap="butt"/>
<line x1="1183.8" y1="1489.81" x2="1188.3" y2="1489.81" stroke="#000" stroke-width="2.2" stroke-linecap="butt"/>
<line x1="1180.6" y1="1465.24" x2="1188.3" y2="1465.24" stroke="#000" stroke-width="2.6" stroke-linecap="butt"/>
<line x1="1183.8" y1="1440.68" x2="1188.3" y2="1440.68" stroke="#000" stroke-width="2.2" stroke-linecap="butt"/>
<line x1="1180.6" y1="1416.11" x2="1188.3" y2="1416.11" stroke="#000" stroke-width="2.6" stroke-linecap="butt"/>
<line x1="1183.8" y1="1391.55" x2="1188.3" y2="1391.55" stroke="#000" stroke-width="2.2" stroke-linecap="butt"/>
<line x1="1180.6" y1="1366.98" x2="1188.3" y2="1366.98" stroke="#000" stroke-width="2.6" stroke-linecap="butt"/>
<line x1="1183.8" y1="1342.41" x2="1188.3" y2="1342.41" stroke="#000" stroke-width="2.2" stroke-linecap="butt"/>
<line x1="1180.6" y1="1317.85" x2="1188.3" y2="1317.85" stroke="#000" stroke-width="2.6" stroke-linecap="butt"/>
<line x1="1183.8" y1="1293.29" x2="1188.3" y2="1293.29" stroke="#000" stroke-width="2.2" stroke-linecap="butt"/>
<line x1="1180.6" y1="1268.72" x2="1188.3" y2="1268.72" stroke="#000" stroke-width="2.6" stroke-linecap="butt"/>
<line x1="1183.8" y1="1244.16" x2="1188.3" y2="1244.16" stroke="#000" stroke-width="2.2" stroke-linecap="butt"/>
<line x1="1180.6" y1="1219.59" x2="1188.3" y2="1219.59" stroke="#000" stroke-width="2.6" stroke-linecap="butt"/>
<line x1="1183.8" y1="1195.03" x2="1188.3" y2="1195.03" stroke="#000" stroke-width="2.2" stroke-linecap="butt"/>
<line x1="1180.6" y1="1170.46" x2="1188.3" y2="1170.46" stroke="#000" stroke-width="2.6" stroke-linecap="butt"/>
<line x1="1183.8" y1="1145.89" x2="1188.3" y2="1145.89" stroke="#000" stroke-width="2.2" stroke-linecap="butt"/>
<line x1="1180.6" y1="1121.33" x2="1188.3" y2="1121.33" stroke="#000" stroke-width="2.6" stroke-linecap="butt"/>
<line x1="1180.6" y1="1809.15" x2="1574.6" y2="1809.15" stroke="#000" stroke-width="2.8" stroke-linecap="butt"/>
<line x1="1236.95" y1="1809.15" x2="1236.95" y2="1817.75" stroke="#000" stroke-width="2.5" stroke-linecap="butt"/>
<line x1="1332.85" y1="1809.15" x2="1332.85" y2="1817.75" stroke="#000" stroke-width="2.5" stroke-linecap="butt"/>
<line x1="1429.15" y1="1809.15" x2="1429.15" y2="1817.75" stroke="#000" stroke-width="2.5" stroke-linecap="butt"/>
<line x1="1525.6" y1="1809.15" x2="1525.6" y2="1817.75" stroke="#000" stroke-width="2.5" stroke-linecap="butt"/>
<text transform="translate(1180.6 1816.75) scale(0.96 1)" font-size="27.2" font-weight="bold" text-anchor="end" stroke="#000" stroke-width="0.5" stroke-linejoin="round">0</text>
<text transform="translate(1180.6 1767.62) scale(0.96 1)" font-size="27.2" font-weight="bold" text-anchor="end" stroke="#000" stroke-width="0.5" stroke-linejoin="round">10</text>
<text transform="translate(1180.6 1718.49) scale(0.96 1)" font-size="27.2" font-weight="bold" text-anchor="end" stroke="#000" stroke-width="0.5" stroke-linejoin="round">20</text>
<text transform="translate(1180.6 1669.36) scale(0.96 1)" font-size="27.2" font-weight="bold" text-anchor="end" stroke="#000" stroke-width="0.5" stroke-linejoin="round">30</text>
<text transform="translate(1180.6 1620.23) scale(0.96 1)" font-size="27.2" font-weight="bold" text-anchor="end" stroke="#000" stroke-width="0.5" stroke-linejoin="round">40</text>
<text transform="translate(1180.6 1571.1) scale(0.96 1)" font-size="27.2" font-weight="bold" text-anchor="end" stroke="#000" stroke-width="0.5" stroke-linejoin="round">50</text>
<text transform="translate(1180.6 1521.97) scale(0.96 1)" font-size="27.2" font-weight="bold" text-anchor="end" stroke="#000" stroke-width="0.5" stroke-linejoin="round">60</text>
<text transform="translate(1180.6 1472.84) scale(0.96 1)" font-size="27.2" font-weight="bold" text-anchor="end" stroke="#000" stroke-width="0.5" stroke-linejoin="round">70</text>
<text transform="translate(1180.6 1423.71) scale(0.96 1)" font-size="27.2" font-weight="bold" text-anchor="end" stroke="#000" stroke-width="0.5" stroke-linejoin="round">80</text>
<text transform="translate(1180.6 1374.58) scale(0.96 1)" font-size="27.2" font-weight="bold" text-anchor="end" stroke="#000" stroke-width="0.5" stroke-linejoin="round">90</text>
<text transform="translate(1180.6 1325.45) scale(0.96 1)" font-size="27.2" font-weight="bold" text-anchor="end" stroke="#000" stroke-width="0.5" stroke-linejoin="round">100</text>
<text transform="translate(1180.6 1276.32) scale(0.96 1)" font-size="27.2" font-weight="bold" text-anchor="end" stroke="#000" stroke-width="0.5" stroke-linejoin="round">110</text>
<text transform="translate(1180.6 1227.19) scale(0.96 1)" font-size="27.2" font-weight="bold" text-anchor="end" stroke="#000" stroke-width="0.5" stroke-linejoin="round">120</text>
<text transform="translate(1180.6 1178.06) scale(0.96 1)" font-size="27.2" font-weight="bold" text-anchor="end" stroke="#000" stroke-width="0.5" stroke-linejoin="round">130</text>
<text transform="translate(1180.6 1128.93) scale(0.96 1)" font-size="27.2" font-weight="bold" text-anchor="end" stroke="#000" stroke-width="0.5" stroke-linejoin="round">140</text>
<text transform="translate(1104.5 1445.5) rotate(-90) scale(1.07 1)" font-size="32.3" font-weight="normal" text-anchor="middle" stroke="#000" stroke-width="1.2" stroke-linejoin="round">REM sleep time (min)</text>
<text x="1065" y="1006.3" font-size="42" font-weight="bold" text-anchor="start">d</text>
<rect x="1424.1" y="993.1" width="35.4" height="12.4" fill="#818181"/>
<rect x="1424.1" y="1014.3" width="35.4" height="12.4" fill="#000"/>
<text transform="translate(1465.9 1004.7) scale(0.96 1)" font-size="16.9" font-weight="normal" text-anchor="start" stroke="#000" stroke-width="0.25" stroke-linejoin="round">LD 1:1 baseline</text>
<text transform="translate(1465.9 1025.7) scale(0.96 1)" font-size="16.9" font-weight="normal" text-anchor="start" stroke="#000" stroke-width="0.25" stroke-linejoin="round">LD 1:1 deprivation</text>
<path d="M1236.6 1135.4 V1110.9 H1334.5 V1135.4" fill="none" stroke="#111" stroke-width="4.2" stroke-linejoin="miter"/>
<path d="M1430.5 1135.8 V1111.4 H1528.4 V1135.8" fill="none" stroke="#111" stroke-width="4.2" stroke-linejoin="miter"/>
<text transform="translate(1312.8 1100.1) rotate(-90)" font-size="50" font-weight="bold" text-anchor="start" letter-spacing="2.25">***</text>
<text transform="translate(1507.6 1101.5) rotate(-90)" font-size="50" font-weight="bold" text-anchor="start" letter-spacing="2.25">**</text>
<text transform="translate(1278.4 1850) scale(1.15 1)" font-size="21" font-weight="normal" text-anchor="middle" stroke="#000" stroke-width="0.7" stroke-linejoin="round">hours</text>
<text transform="translate(1278.4 1877.6) scale(1.15 1)" font-size="21" font-weight="normal" text-anchor="middle" stroke="#000" stroke-width="0.7" stroke-linejoin="round">1-12</text>
<text transform="translate(1477.4 1846.9) scale(1.15 1)" font-size="21" font-weight="normal" text-anchor="middle" stroke="#000" stroke-width="0.7" stroke-linejoin="round">hours</text>
<text transform="translate(1477.4 1874.5) scale(1.15 1)" font-size="21" font-weight="normal" text-anchor="middle" stroke="#000" stroke-width="0.7" stroke-linejoin="round">1-24</text>
<text transform="translate(1477.4 1902.1) scale(1.15 1)" font-size="21" font-weight="normal" text-anchor="middle" stroke="#000" stroke-width="0.7" stroke-linejoin="round">(whole day)</text>
</g>
</svg></body></html>
